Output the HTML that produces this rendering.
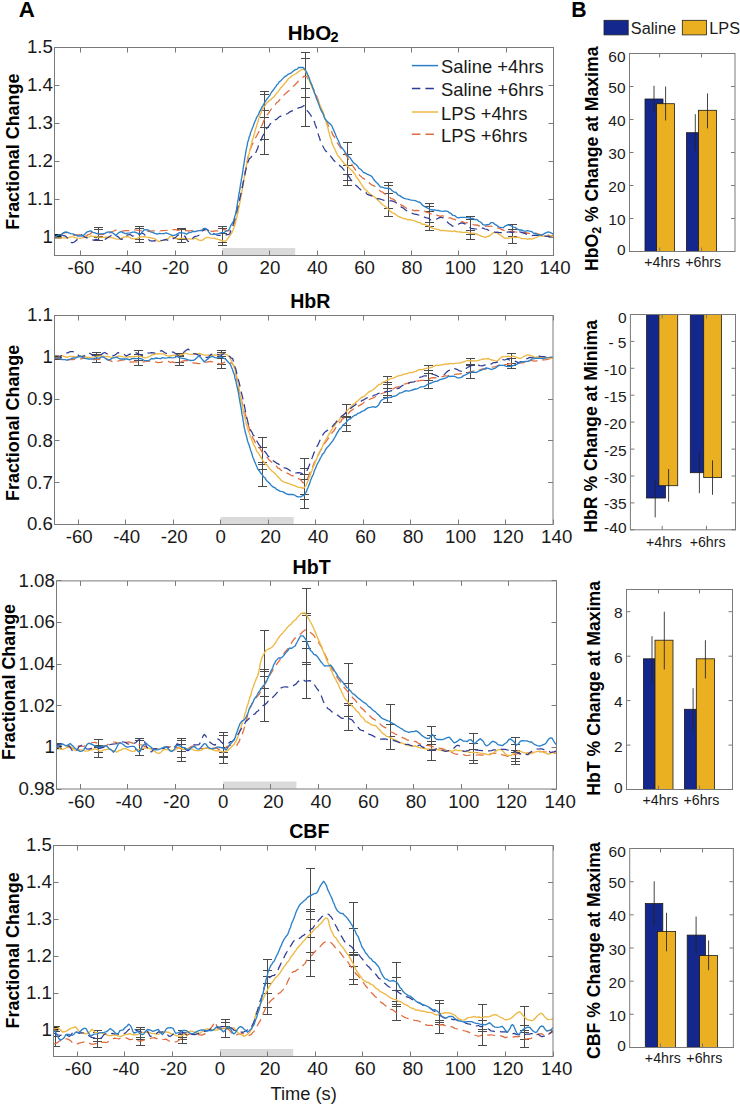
<!DOCTYPE html><html><head><meta charset="utf-8"><style>html,body{margin:0;padding:0;background:#fff;width:740px;height:1105px;overflow:hidden}svg{display:block}</style></head><body>
<svg width="740" height="1105" viewBox="0 0 740 1105" font-family="'Liberation Sans', sans-serif" fill="#1a1a1a">
<defs>
<clipPath id="clipA1"><rect x="54.5" y="47.5" width="499.0" height="208.0"/></clipPath>
<clipPath id="clipA2"><rect x="54.5" y="315.5" width="498.5" height="209.0"/></clipPath>
<clipPath id="clipA3"><rect x="56.5" y="580.9" width="500.0" height="208.1"/></clipPath>
<clipPath id="clipA4"><rect x="53.5" y="845.5" width="499.5" height="211.0"/></clipPath>
</defs>
<text x="18.8" y="16.6" font-size="22.3" text-anchor="start" font-weight="bold" fill="#000">A</text>
<text x="571.2" y="16.9" font-size="21.2" text-anchor="start" font-weight="bold" fill="#000">B</text>
<rect x="222.4" y="248.0" width="72.8" height="7" fill="#dadada"/>
<g clip-path="url(#clipA1)">
<path d="M57.5 234.5V237.5M53.0 234.5h9M53.0 237.5h9" stroke="#4a4a4a" stroke-width="1" fill="none"/>
<path d="M98.5 227.2V240.9M94.0 227.5h9M94.0 229.5h9M94.0 236.5h9M94.0 237.5h9M94.0 240.5h9" stroke="#4a4a4a" stroke-width="1" fill="none"/>
<path d="M139.5 226.5V242.7M135.0 226.5h9M135.0 228.5h9M135.0 239.5h9M135.0 242.5h9" stroke="#4a4a4a" stroke-width="1" fill="none"/>
<path d="M181.5 228.5V242.0M177.0 228.5h9M177.0 229.5h9M177.0 238.5h9M177.0 239.5h9M177.0 242.5h9" stroke="#4a4a4a" stroke-width="1" fill="none"/>
<path d="M222.5 226.5V245.4M218.0 226.5h9M218.0 228.5h9M218.0 233.5h9M218.0 242.5h9M218.0 245.5h9" stroke="#4a4a4a" stroke-width="1" fill="none"/>
<path d="M264.5 91.6V154.4M260.0 91.5h9M260.0 94.5h9M260.0 110.5h9M260.0 117.5h9M260.0 127.5h9M260.0 139.5h9M260.0 154.5h9" stroke="#4a4a4a" stroke-width="1" fill="none"/>
<path d="M305.5 52.7V126.0M301.0 52.5h9M301.0 58.5h9M301.0 88.5h9M301.0 97.5h9M301.0 126.5h9" stroke="#4a4a4a" stroke-width="1" fill="none"/>
<path d="M347.5 142.7V185.4M343.0 142.5h9M343.0 154.5h9M343.0 165.5h9M343.0 174.5h9M343.0 180.5h9M343.0 185.5h9" stroke="#4a4a4a" stroke-width="1" fill="none"/>
<path d="M388.5 182.7V216.5M384.0 182.5h9M384.0 185.5h9M384.0 193.5h9M384.0 208.5h9M384.0 216.5h9" stroke="#4a4a4a" stroke-width="1" fill="none"/>
<path d="M429.5 203.1V230.1M425.0 203.5h9M425.0 206.5h9M425.0 211.5h9M425.0 222.5h9M425.0 226.5h9M425.0 230.5h9" stroke="#4a4a4a" stroke-width="1" fill="none"/>
<path d="M470.5 216.9V239.2M466.0 216.5h9M466.0 219.5h9M466.0 230.5h9M466.0 234.5h9M466.0 239.5h9" stroke="#4a4a4a" stroke-width="1" fill="none"/>
<path d="M512.5 224.6V243.3M508.0 224.5h9M508.0 229.5h9M508.0 236.5h9M508.0 243.5h9" stroke="#4a4a4a" stroke-width="1" fill="none"/>
<rect x="54.5" y="234.0" width="7.0" height="4.5" fill="#151515"/>
<path d="M61.0 234.5 L62.9 233.3 L65.6 232.7 L68.2 232.4 L70.3 233.2 L72.2 234.7 L74.3 235.4 L76.7 234.9 L79.3 234.7 L81.6 234.4 L84.0 235.2 L86.5 236.0 L88.2 234.5 L90.0 234.2 L91.9 232.2 L93.8 232.1 L96.2 232.8 L98.7 234.2 L101.1 234.6 L103.5 234.3 L106.0 234.1 L108.4 233.8 L110.3 232.6 L112.2 231.5 L114.0 231.0 L115.7 230.1 L118.1 230.5 L120.6 231.0 L122.9 231.2 L125.4 230.6 L127.9 230.7 L130.1 230.7 L132.3 229.5 L135.2 230.0 L137.1 230.1 L139.2 230.5 L141.5 230.8 L143.8 231.1 L146.2 231.1 L148.5 231.5 L150.7 230.9 L153.0 230.9 L155.2 230.9 L157.5 230.4 L159.7 231.0 L162.0 230.5 L164.2 230.5 L166.5 230.4 L168.7 230.1 L171.0 229.4 L173.2 229.7 L175.5 229.7 L177.8 230.3 L180.1 229.8 L182.5 231.1 L184.8 230.5 L187.0 230.6 L189.1 231.1 L191.4 230.5 L193.6 230.4 L195.7 229.9 L197.8 230.5 L199.9 230.4 L202.0 230.2 L204.1 230.1 L206.2 231.2 L208.4 231.5 L210.7 231.2 L212.9 231.4 L215.2 230.8 L217.7 230.9 L220.1 230.7 L222.3 229.6 L224.2 229.6 L227.2 230.6 L229.5 230.9 L231.6 228.9 L232.4 227.9 L233.1 226.6 L233.8 224.7 L234.5 222.3 L235.1 220.7 L235.8 218.6 L236.4 215.7 L237.1 213.1 L237.5 211.6 L237.9 209.6 L238.3 208.0 L238.7 205.7 L239.1 203.1 L239.5 201.8 L239.9 199.8 L240.3 197.7 L240.7 194.9 L241.1 192.7 L241.6 190.8 L242.0 187.7 L242.5 186.0 L242.9 183.6 L243.3 181.5 L243.6 180.1 L244.0 178.3 L244.4 175.8 L244.8 173.2 L245.2 171.5 L245.7 168.9 L246.1 167.3 L246.5 165.2 L246.9 162.5 L247.4 160.1 L247.8 158.1 L248.3 156.2 L248.8 154.4 L249.2 152.9 L249.7 151.8 L250.5 149.1 L251.4 146.4 L252.2 144.8 L253.1 142.8 L254.0 140.2 L254.9 138.9 L255.9 137.2 L256.8 135.6 L257.8 133.7 L258.8 131.9 L259.7 129.2 L260.6 127.5 L261.5 125.8 L262.4 124.5 L263.4 121.6 L264.3 119.8 L265.3 118.8 L266.3 117.0 L267.4 114.5 L268.5 113.4 L269.6 111.5 L270.9 109.5 L272.3 108.2 L273.8 106.5 L275.3 104.5 L276.8 102.4 L278.4 101.7 L279.9 99.4 L281.4 98.1 L282.8 96.2 L284.1 94.9 L285.9 93.2 L287.5 91.7 L289.1 90.5 L290.7 88.9 L292.1 87.1 L293.6 86.0 L295.0 84.7 L296.7 83.0 L298.4 81.0 L300.0 79.5 L301.5 78.2 L302.9 77.2 L304.0 76.1 L307.2 77.0 L307.9 78.6 L308.6 79.6 L309.5 81.6 L310.4 83.0 L311.4 84.5 L312.4 86.8 L313.4 89.0 L314.4 91.0 L315.4 93.1 L316.3 95.4 L317.0 96.7 L317.8 98.9 L318.5 101.2 L319.2 103.1 L320.0 104.9 L320.7 107.3 L321.4 109.3 L322.2 111.2 L322.9 112.7 L323.7 114.5 L324.5 117.3 L325.3 119.2 L326.1 121.1 L327.0 122.6 L327.9 124.5 L328.8 126.6 L329.7 128.5 L330.6 130.4 L331.6 131.5 L332.5 134.1 L333.4 135.8 L334.4 136.7 L335.3 139.3 L336.2 140.8 L337.4 143.1 L338.6 144.7 L339.8 146.7 L341.0 147.8 L342.1 150.2 L343.3 151.1 L344.6 153.1 L345.8 155.0 L347.1 156.6 L348.2 158.8 L349.2 160.5 L350.3 162.2 L351.4 163.2 L352.5 165.5 L353.6 167.1 L354.8 169.0 L356.0 170.4 L357.2 171.5 L358.4 173.4 L359.7 175.4 L361.2 176.6 L362.7 178.1 L364.3 178.9 L365.9 180.7 L367.5 181.1 L369.2 182.9 L370.9 184.2 L372.6 185.4 L374.3 185.8 L376.0 187.7 L377.6 189.1 L379.2 190.1 L380.9 191.6 L382.5 192.0 L384.2 193.5 L385.9 194.9 L387.6 196.0 L389.3 196.8 L390.9 198.6 L392.5 198.8 L394.1 199.7 L396.0 201.5 L397.9 202.5 L399.7 203.9 L401.5 205.2 L403.3 205.9 L405.1 207.3 L406.8 208.5 L408.4 209.1 L410.0 209.5 L412.2 209.9 L414.3 210.8 L416.3 210.3 L418.3 210.7 L420.2 210.6 L422.2 211.3 L424.2 210.8 L426.2 212.2 L428.2 212.7 L430.3 213.6 L432.3 214.4 L434.3 215.2 L436.3 214.9 L438.4 215.7 L440.4 216.3 L442.4 215.7 L444.5 216.6 L446.5 216.6 L448.5 217.8 L450.6 217.9 L452.6 218.9 L454.6 219.3 L456.7 220.5 L458.7 220.6 L460.7 222.1 L462.7 221.7 L464.8 223.1 L466.8 222.6 L468.8 223.4 L470.8 224.2 L472.8 224.5 L474.9 225.2 L476.9 224.8 L478.9 226.0 L481.0 225.2 L483.0 225.8 L485.0 226.1 L487.0 225.8 L489.1 226.5 L491.1 226.0 L493.1 227.1 L495.1 227.2 L497.1 227.8 L499.2 228.1 L501.2 229.3 L503.2 230.1 L505.3 230.9 L507.3 231.1 L509.3 231.7 L511.4 231.1 L513.4 231.7 L515.4 232.0 L517.5 232.1 L519.5 232.3 L521.5 232.0 L523.6 232.3 L525.7 232.3 L527.7 233.2 L529.7 233.4 L531.6 233.3 L533.7 233.5 L535.7 233.2 L537.7 233.8 L539.7 234.3 L541.8 234.6 L543.8 234.2 L546.1 234.5 L548.5 235.2 L550.7 236.0 L552.6 235.7 L553.9 236.2" stroke="#e06a3c" stroke-width="1.25" fill="none" stroke-linejoin="round" stroke-dasharray="8 5"/>
<path d="M54.9 237.5 L56.5 237.9 L58.8 237.9 L61.0 237.8 L63.5 237.8 L65.8 238.2 L68.1 237.9 L70.7 236.8 L72.9 236.9 L75.4 237.8 L78.0 238.2 L80.1 238.4 L82.2 237.8 L84.4 237.1 L86.5 237.3 L89.0 236.9 L91.3 235.9 L93.8 236.7 L95.8 236.3 L98.0 237.2 L100.1 237.1 L102.3 237.4 L104.5 237.4 L106.6 237.0 L108.8 237.6 L110.8 237.3 L113.3 237.9 L115.6 238.8 L118.1 239.1 L120.1 238.8 L122.3 237.8 L124.5 236.8 L126.6 236.5 L128.7 236.9 L130.9 238.1 L133.0 238.8 L135.0 238.7 L137.4 238.6 L139.6 237.0 L141.8 236.8 L144.1 236.6 L146.4 237.1 L148.5 237.4 L151.3 238.0 L153.9 238.4 L155.6 239.4 L157.4 240.8 L159.3 241.6 L161.5 240.6 L163.9 240.3 L166.1 239.0 L168.1 238.6 L169.9 236.7 L171.5 235.8 L173.4 237.4 L175.5 238.5 L177.6 239.0 L179.9 238.3 L182.3 238.2 L184.6 238.6 L186.8 238.9 L189.1 238.9 L191.4 239.2 L193.7 238.8 L195.8 238.1 L198.5 239.9 L201.2 240.6 L203.3 239.6 L205.6 237.8 L208.0 237.4 L210.0 237.8 L212.1 238.1 L214.2 238.2 L216.1 238.8 L219.1 239.6 L221.5 240.5 L223.6 241.1 L225.5 241.1 L227.5 239.0 L229.6 236.1 L230.4 235.0 L231.3 233.5 L232.2 232.2 L233.1 230.1 L234.1 227.3 L235.0 224.5 L235.4 223.1 L235.9 220.9 L236.3 219.4 L236.7 217.5 L237.2 215.3 L237.6 214.1 L238.1 211.4 L238.5 209.1 L239.0 207.1 L239.4 205.3 L239.8 202.6 L240.3 200.9 L240.7 198.5 L241.1 196.2 L241.4 194.3 L241.8 192.6 L242.1 190.5 L242.5 188.6 L242.8 186.3 L243.2 184.6 L243.5 182.1 L243.9 179.5 L244.2 178.1 L244.6 175.7 L245.0 173.2 L245.3 172.1 L245.7 169.8 L246.1 168.0 L246.5 165.0 L247.0 163.6 L247.4 161.1 L247.9 159.6 L248.3 157.4 L248.7 155.1 L249.2 153.2 L249.7 151.1 L250.2 148.6 L250.7 146.9 L251.2 145.1 L251.8 142.4 L252.4 140.0 L252.9 138.3 L253.5 137.2 L254.0 134.7 L254.6 133.0 L255.2 130.2 L255.8 128.2 L256.4 126.7 L257.0 124.3 L257.6 122.8 L258.3 120.3 L259.0 118.1 L259.6 116.6 L260.3 114.0 L261.0 112.9 L261.7 111.1 L262.4 109.2 L263.7 107.6 L265.0 105.6 L266.4 103.2 L267.9 101.9 L269.3 100.5 L270.8 99.8 L272.2 98.0 L273.7 97.1 L275.1 95.1 L276.5 93.3 L277.9 91.9 L279.4 89.8 L280.8 87.7 L282.2 86.6 L283.6 84.7 L285.0 83.0 L286.4 81.7 L287.7 79.6 L289.7 77.8 L291.7 75.9 L293.6 75.0 L295.4 74.0 L297.1 72.9 L298.6 71.6 L301.0 70.0 L302.7 69.3 L304.0 69.0 L305.4 70.9 L305.9 72.0 L306.5 73.2 L307.1 75.4 L307.9 77.3 L308.7 78.4 L309.5 81.4 L310.3 83.6 L311.2 85.4 L312.1 87.5 L312.9 89.3 L313.7 91.3 L314.5 93.3 L315.4 95.7 L316.3 97.3 L317.2 98.8 L318.1 101.4 L319.0 102.6 L319.9 105.1 L320.8 107.1 L321.7 109.2 L322.6 110.4 L323.5 113.6 L324.1 114.9 L324.6 117.2 L325.2 118.8 L325.8 120.7 L326.3 122.9 L326.9 124.3 L327.5 126.6 L328.1 128.7 L328.6 131.4 L329.2 132.8 L329.8 135.6 L330.3 137.7 L330.9 138.7 L331.5 141.0 L332.0 143.1 L332.6 144.4 L333.6 147.0 L334.6 148.5 L335.5 150.8 L336.5 152.9 L337.5 154.8 L338.5 156.3 L339.5 157.3 L340.5 158.7 L341.6 160.4 L343.0 162.0 L344.5 164.1 L346.0 164.8 L347.6 166.0 L349.2 168.1 L350.8 169.8 L352.5 170.9 L353.6 172.7 L354.7 173.7 L355.9 176.1 L357.1 177.8 L358.3 179.5 L359.5 181.1 L360.6 183.1 L361.8 184.6 L363.0 186.6 L364.1 188.4 L365.2 189.4 L366.8 190.7 L368.3 192.4 L369.8 193.8 L371.2 194.9 L372.7 195.7 L374.3 196.8 L376.0 198.3 L377.5 199.7 L379.0 201.3 L380.6 202.8 L382.3 204.5 L384.0 205.5 L385.7 206.9 L387.3 208.1 L388.9 209.8 L390.5 211.6 L392.5 212.8 L394.4 213.4 L396.4 215.0 L398.3 216.4 L400.1 217.0 L401.7 217.7 L403.2 218.5 L405.8 218.9 L407.7 219.9 L410.0 219.6 L411.8 220.1 L413.8 220.5 L415.9 221.4 L418.0 222.3 L420.1 222.5 L422.1 224.2 L424.2 224.2 L426.2 225.2 L428.3 225.7 L430.3 226.9 L432.3 228.1 L434.3 228.6 L436.4 229.3 L438.4 229.3 L440.4 230.6 L442.3 230.5 L444.0 230.4 L445.7 230.6 L447.8 231.1 L450.5 231.0 L452.1 231.7 L454.0 230.9 L456.0 231.5 L458.1 231.8 L460.3 232.0 L462.5 232.4 L464.7 232.4 L466.8 232.2 L468.9 232.9 L470.8 233.1 L473.1 233.1 L475.3 233.7 L477.5 234.5 L479.7 235.4 L481.7 236.3 L483.6 236.7 L485.4 237.3 L487.0 236.7 L489.5 236.0 L491.4 234.5 L493.1 232.7 L495.1 232.6 L497.0 232.7 L499.0 234.4 L501.1 235.4 L503.2 237.3 L505.3 238.4 L507.3 238.2 L509.2 238.1 L511.1 237.9 L513.1 236.8 L515.4 237.6 L517.2 237.2 L519.3 237.5 L521.4 238.5 L523.6 238.7 L525.7 238.6 L527.8 239.3 L529.6 238.7 L531.8 239.2 L533.7 238.4 L535.6 237.8 L537.5 237.0 L539.7 235.7 L541.6 236.0 L543.9 236.1 L546.2 236.2 L548.6 235.9 L550.8 235.8 L552.6 236.1 L553.9 236.2" stroke="#eeb844" stroke-width="1.35" fill="none" stroke-linejoin="round"/>
<path d="M61.0 234.5 L62.6 235.3 L64.9 235.8 L67.0 237.5 L68.7 239.5 L70.3 241.9 L71.9 242.8 L74.4 242.0 L76.8 240.0 L78.3 238.0 L79.8 236.5 L81.6 234.8 L83.2 236.0 L85.1 237.1 L87.0 237.9 L88.9 238.9 L91.3 239.5 L93.8 240.2 L96.2 239.4 L98.6 240.2 L101.1 240.5 L103.5 240.4 L105.4 239.1 L107.2 238.0 L109.1 236.7 L110.8 235.8 L113.0 234.8 L115.0 235.8 L116.9 236.1 L118.6 237.1 L120.1 238.8 L121.8 239.4 L123.7 238.3 L125.7 235.7 L127.9 234.9 L130.2 234.5 L132.7 236.2 L135.2 235.6 L137.2 235.7 L139.2 234.4 L141.2 233.5 L143.1 233.4 L144.8 234.9 L146.4 236.9 L148.0 239.0 L149.9 240.7 L152.1 241.1 L154.6 240.7 L157.1 241.4 L159.3 240.4 L161.8 240.5 L164.0 239.8 L166.1 239.7 L168.7 240.6 L171.5 240.4 L173.4 238.4 L175.5 237.7 L177.7 235.2 L179.6 235.0 L182.6 235.2 L185.0 236.4 L186.4 239.1 L187.7 241.1 L189.1 241.8 L190.8 241.4 L192.7 238.2 L194.5 236.7 L197.2 236.0 L199.9 234.9 L201.2 233.1 L202.5 231.1 L203.9 229.6 L205.3 228.9 L207.4 229.7 L209.7 231.1 L212.0 232.7 L214.2 233.8 L216.4 234.8 L218.8 235.5 L220.8 235.3 L223.0 235.9 L225.1 235.4 L226.9 234.6 L228.6 234.6 L229.8 233.8 L231.6 228.8 L232.0 227.5 L232.5 226.4 L233.0 224.9 L233.5 222.8 L234.0 221.0 L234.6 218.9 L235.1 217.0 L235.7 214.9 L236.3 212.7 L236.9 210.6 L237.5 207.8 L238.0 206.1 L238.6 203.1 L239.2 200.9 L239.7 199.2 L240.2 196.8 L240.7 194.9 L241.2 192.6 L241.7 190.6 L242.2 188.0 L242.6 186.2 L243.1 183.3 L243.5 181.4 L244.0 179.4 L244.4 176.7 L244.8 174.8 L245.3 172.5 L245.7 170.5 L246.1 168.7 L246.6 166.5 L247.0 164.7 L247.5 163.2 L247.9 162.2 L249.3 158.8 L250.6 157.7 L252.0 156.3 L253.5 155.5 L255.2 152.8 L256.0 152.2 L256.8 150.1 L257.7 148.3 L258.5 145.4 L259.4 144.2 L260.4 141.8 L261.3 139.8 L262.3 136.7 L263.2 135.1 L264.2 133.1 L265.1 131.5 L266.0 129.1 L267.5 127.6 L269.0 125.9 L270.5 123.7 L272.0 122.0 L273.5 121.7 L275.2 119.8 L276.9 119.2 L278.6 117.3 L280.3 116.2 L282.2 116.3 L284.0 115.3 L285.9 114.3 L287.8 113.5 L289.7 111.9 L291.4 111.1 L293.7 110.3 L296.2 109.3 L298.5 107.8 L300.7 107.4 L302.6 106.6 L304.0 105.6 L305.4 108.4 L306.2 108.6 L307.2 110.8 L308.3 111.9 L309.6 113.7 L310.9 115.4 L312.2 118.2 L313.4 119.7 L314.5 122.2 L315.2 124.7 L315.9 126.2 L316.5 127.8 L317.2 130.2 L317.8 132.1 L318.4 134.9 L319.0 136.6 L319.7 138.2 L320.3 140.9 L321.0 142.5 L321.7 144.2 L322.9 146.3 L324.1 148.5 L325.3 150.5 L326.6 151.7 L327.9 152.9 L329.3 155.2 L330.8 156.3 L332.2 158.2 L333.7 160.3 L335.3 161.7 L337.0 163.3 L338.6 164.1 L340.3 166.4 L341.9 167.3 L343.4 169.4 L344.7 170.9 L345.9 172.5 L347.0 174.5 L348.2 175.5 L349.3 177.4 L350.5 179.0 L351.7 180.8 L352.9 181.9 L354.3 183.8 L355.8 185.2 L357.4 186.5 L359.0 188.1 L360.7 189.7 L362.4 190.8 L364.1 192.2 L365.8 192.4 L367.3 194.3 L368.8 194.8 L371.1 195.6 L373.2 196.6 L375.2 197.4 L377.3 198.7 L379.6 198.8 L381.5 199.5 L383.4 200.2 L385.5 200.5 L387.6 200.8 L389.7 200.9 L391.9 200.8 L394.1 201.7 L395.8 202.5 L397.6 203.8 L399.4 205.3 L401.3 207.1 L403.1 207.9 L404.9 209.5 L406.7 210.7 L408.4 212.0 L410.0 212.6 L412.3 213.3 L414.4 214.2 L416.5 214.3 L418.4 215.0 L420.3 215.4 L422.2 216.4 L424.4 217.2 L426.4 217.9 L428.4 218.2 L430.3 219.8 L432.3 219.8 L434.3 219.5 L436.3 219.2 L438.4 218.2 L440.4 217.4 L442.4 217.5 L444.1 218.7 L445.8 220.1 L447.5 222.3 L449.2 223.7 L450.9 224.8 L452.6 226.2 L454.6 225.6 L456.6 225.2 L458.7 224.0 L460.7 223.2 L462.7 223.0 L464.7 223.8 L466.7 224.7 L468.8 226.5 L470.8 228.4 L472.8 228.6 L474.8 228.9 L476.8 229.0 L478.8 227.9 L480.8 228.2 L483.0 228.2 L484.9 229.0 L486.9 229.3 L488.9 230.5 L491.0 231.1 L493.1 231.3 L495.1 232.3 L497.1 232.2 L499.2 232.7 L501.2 232.5 L503.2 232.6 L505.3 231.8 L507.3 232.2 L509.4 231.8 L511.4 232.3 L513.5 232.0 L515.6 232.3 L517.6 232.3 L519.5 231.9 L521.6 232.4 L523.6 233.1 L525.5 233.6 L527.5 234.7 L529.6 235.6 L531.5 235.6 L533.6 235.3 L535.7 235.1 L537.8 235.5 L539.9 234.9 L541.8 235.0 L544.1 235.8 L546.5 236.3 L548.7 236.1 L550.6 237.4 L551.9 237.2" stroke="#2e3c96" stroke-width="1.25" fill="none" stroke-linejoin="round" stroke-dasharray="8 5"/>
<path d="M54.9 236.3 L56.5 236.2 L58.8 234.8 L61.0 234.9 L63.5 232.7 L65.8 232.0 L68.1 232.6 L70.7 233.6 L73.0 233.9 L75.6 235.1 L78.0 236.0 L80.2 236.0 L82.2 235.8 L84.1 234.8 L85.7 233.2 L87.3 231.8 L88.9 231.3 L90.8 230.8 L92.8 232.3 L95.0 232.9 L97.3 233.8 L99.8 233.9 L102.3 233.9 L104.8 233.3 L107.3 232.1 L109.6 231.9 L111.8 232.5 L113.9 233.7 L115.7 235.5 L117.5 233.7 L119.3 232.3 L121.0 231.6 L123.0 232.6 L125.4 233.7 L127.7 233.1 L130.2 232.9 L132.8 232.1 L135.0 232.1 L138.0 233.3 L140.4 234.3 L142.1 232.3 L143.9 230.0 L145.8 229.7 L148.0 229.8 L150.3 231.8 L152.6 232.3 L154.8 233.4 L157.1 234.1 L159.3 233.4 L161.5 233.6 L163.7 233.6 L166.1 232.9 L168.1 233.6 L170.2 234.5 L172.3 235.4 L174.2 235.4 L176.1 234.6 L177.8 233.6 L179.6 232.7 L181.8 232.8 L184.1 233.2 L186.4 234.1 L188.6 232.8 L190.9 232.4 L193.1 231.3 L195.4 231.5 L197.7 230.9 L199.9 230.7 L201.8 230.6 L203.6 228.4 L205.3 228.3 L207.1 229.9 L208.9 232.2 L210.7 234.2 L213.4 234.3 L216.1 234.2 L218.8 233.6 L221.5 232.7 L224.3 232.4 L226.9 230.8 L228.3 230.3 L229.6 228.6 L230.9 225.3 L231.7 224.0 L232.6 222.6 L233.4 221.4 L234.2 218.6 L235.0 215.9 L235.4 214.7 L235.8 213.6 L236.1 211.3 L236.5 209.9 L236.8 207.3 L237.2 205.0 L237.6 202.4 L238.0 200.5 L238.3 198.6 L238.6 196.2 L238.9 194.2 L239.3 192.5 L239.6 190.6 L240.0 188.5 L240.3 185.9 L240.7 183.7 L241.1 181.4 L241.4 179.2 L241.8 177.7 L242.1 175.7 L242.5 173.1 L242.8 171.0 L243.2 168.4 L243.5 166.2 L243.9 164.8 L244.2 161.9 L244.5 160.0 L244.9 157.4 L245.2 155.9 L245.5 153.8 L245.9 151.1 L246.3 149.3 L246.6 147.6 L247.0 146.4 L247.5 143.1 L248.1 141.1 L248.6 139.7 L249.2 136.9 L249.8 135.8 L250.4 133.3 L251.0 131.6 L251.7 130.0 L252.4 128.0 L253.2 126.2 L254.0 123.8 L254.9 121.5 L255.8 119.6 L256.7 117.2 L257.7 115.9 L258.7 114.0 L259.6 111.6 L260.6 109.9 L261.7 107.4 L262.7 106.2 L263.8 104.1 L264.9 102.0 L266.1 100.4 L267.2 98.6 L268.4 97.2 L269.6 95.7 L270.7 93.5 L271.9 91.7 L273.1 90.3 L274.3 88.6 L275.6 86.8 L276.8 84.8 L278.0 84.0 L279.3 81.6 L280.5 81.1 L282.3 79.1 L284.2 77.1 L286.1 75.9 L287.9 74.4 L289.7 73.6 L291.4 72.8 L293.4 71.0 L295.3 69.6 L297.2 69.1 L298.9 67.3 L300.4 67.5 L303.1 67.5 L305.4 70.0 L306.3 71.5 L307.1 73.1 L308.0 75.4 L308.9 77.1 L309.9 80.3 L310.9 82.9 L311.6 84.3 L312.2 86.1 L312.9 88.4 L313.7 89.9 L314.4 92.8 L315.1 94.1 L315.9 96.3 L316.6 99.0 L317.4 100.5 L318.1 102.5 L319.0 104.7 L319.9 107.4 L320.8 109.7 L321.8 111.7 L322.7 113.0 L323.6 115.2 L324.4 117.8 L325.3 119.3 L326.9 120.9 L328.4 122.6 L330.0 123.8 L331.7 125.6 L332.5 127.4 L333.4 129.4 L334.2 131.2 L335.1 133.4 L336.0 135.7 L337.0 138.0 L337.9 139.7 L338.8 141.7 L339.8 144.3 L341.0 146.6 L342.2 148.1 L343.4 149.7 L344.7 151.5 L346.0 153.4 L347.4 154.9 L348.9 156.7 L350.2 157.9 L351.5 160.0 L353.0 162.0 L354.5 163.7 L355.9 164.4 L357.4 166.0 L358.9 168.4 L360.2 169.0 L361.5 170.1 L363.5 172.4 L365.4 173.2 L367.1 174.1 L368.8 174.9 L370.6 175.6 L372.0 176.7 L373.4 179.0 L374.8 180.7 L376.2 182.3 L377.6 183.5 L379.1 185.4 L380.5 187.1 L382.5 187.1 L384.4 188.0 L386.4 188.3 L388.4 188.2 L390.5 189.0 L392.3 190.8 L394.2 192.2 L396.0 192.5 L397.9 194.9 L399.7 195.6 L401.4 196.9 L403.7 198.1 L405.9 198.8 L407.9 199.1 L410.0 199.9 L412.0 200.2 L414.0 200.4 L415.9 200.9 L418.1 202.0 L419.7 202.1 L421.3 203.7 L423.0 205.7 L424.8 206.6 L426.5 207.7 L428.2 208.4 L430.3 209.4 L432.3 210.0 L434.4 209.8 L436.4 210.3 L438.4 210.5 L440.8 211.1 L443.0 211.3 L445.3 210.9 L447.5 211.3 L449.3 212.6 L451.1 213.6 L452.9 215.4 L454.7 215.6 L456.6 217.3 L458.6 217.8 L460.6 217.4 L462.7 217.3 L464.7 217.4 L466.8 217.6 L468.9 217.8 L470.9 218.5 L473.0 218.4 L475.0 219.7 L476.9 219.4 L479.1 221.5 L481.1 222.4 L483.0 224.7 L485.0 225.1 L487.0 224.6 L489.1 224.5 L491.1 222.6 L493.1 222.7 L495.1 224.4 L497.1 225.6 L499.2 227.2 L501.2 227.5 L503.2 227.7 L505.1 226.1 L507.1 225.0 L509.3 225.2 L511.2 225.8 L513.2 227.1 L515.3 227.4 L517.4 229.2 L519.5 230.0 L521.5 230.0 L523.5 230.8 L525.6 231.2 L527.6 230.6 L529.6 231.2 L531.6 231.5 L533.6 233.3 L535.7 233.5 L537.7 234.5 L539.7 234.8 L541.8 235.4 L544.1 233.7 L546.3 232.7 L548.3 231.9 L549.9 232.3 L552.5 233.6 L553.9 235.1" stroke="#2b80c8" stroke-width="1.35" fill="none" stroke-linejoin="round"/>
</g>
<path d="M80.5 255.5v-5.0M80.5 47.5v5.0M127.5 255.5v-5.0M127.5 47.5v5.0M175.5 255.5v-5.0M175.5 47.5v5.0M222.5 255.5v-5.0M222.5 47.5v5.0M269.5 255.5v-5.0M269.5 47.5v5.0M317.5 255.5v-5.0M317.5 47.5v5.0M364.5 255.5v-5.0M364.5 47.5v5.0M411.5 255.5v-5.0M411.5 47.5v5.0M458.5 255.5v-5.0M458.5 47.5v5.0M506.5 255.5v-5.0M506.5 47.5v5.0M553.5 255.5v-5.0M553.5 47.5v5.0M54.5 237.5h5.0M553.5 237.5h-5.0M54.5 199.5h5.0M553.5 199.5h-5.0M54.5 161.5h5.0M553.5 161.5h-5.0M54.5 123.5h5.0M553.5 123.5h-5.0M54.5 85.5h5.0M553.5 85.5h-5.0M54.5 47.5h5.0M553.5 47.5h-5.0" stroke="#7a7a7a" stroke-width="1" fill="none"/>
<rect x="54.5" y="47.5" width="499.0" height="208.0" stroke="#7a7a7a" stroke-width="1" fill="none"/>
<text x="81.0" y="274.1" font-size="18.7" text-anchor="middle" font-weight="normal" >-60</text>
<text x="128.3" y="274.1" font-size="18.7" text-anchor="middle" font-weight="normal" >-40</text>
<text x="175.6" y="274.1" font-size="18.7" text-anchor="middle" font-weight="normal" >-20</text>
<text x="222.6" y="274.1" font-size="18.7" text-anchor="middle" font-weight="normal" >0</text>
<text x="270.0" y="274.1" font-size="18.7" text-anchor="middle" font-weight="normal" >20</text>
<text x="317.3" y="274.1" font-size="18.7" text-anchor="middle" font-weight="normal" >40</text>
<text x="364.6" y="274.1" font-size="18.7" text-anchor="middle" font-weight="normal" >60</text>
<text x="411.9" y="274.1" font-size="18.7" text-anchor="middle" font-weight="normal" >80</text>
<text x="460.4" y="274.1" font-size="18.7" text-anchor="middle" font-weight="normal" >100</text>
<text x="507.7" y="274.1" font-size="18.7" text-anchor="middle" font-weight="normal" >120</text>
<text x="555.0" y="274.1" font-size="18.7" text-anchor="middle" font-weight="normal" >140</text>
<text x="52.9" y="243.4" font-size="18.7" text-anchor="end" font-weight="normal" >1</text>
<text x="52.9" y="205.4" font-size="18.7" text-anchor="end" font-weight="normal" >1.1</text>
<text x="52.9" y="167.4" font-size="18.7" text-anchor="end" font-weight="normal" >1.2</text>
<text x="52.9" y="129.4" font-size="18.7" text-anchor="end" font-weight="normal" >1.3</text>
<text x="52.9" y="91.4" font-size="18.7" text-anchor="end" font-weight="normal" >1.4</text>
<text x="52.9" y="53.4" font-size="18.7" text-anchor="end" font-weight="normal" >1.5</text>
<text x="287.7" y="39.9" font-size="19.6" text-anchor="start" font-weight="bold" fill="#000"><tspan font-size="20.6">HbO</tspan><tspan font-size="14.5" dx="-0.6" dy="2.2">2</tspan></text>
<rect x="220.7" y="517.0" width="73.0" height="7" fill="#dadada"/>
<g clip-path="url(#clipA2)">
<path d="M57.5 356.0V359.0M53.0 356.5h9M53.0 357.5h9M53.0 359.5h9" stroke="#4a4a4a" stroke-width="1" fill="none"/>
<path d="M96.5 352.3V362.0M92.0 352.5h9M92.0 354.5h9M92.0 355.5h9M92.0 362.5h9" stroke="#4a4a4a" stroke-width="1" fill="none"/>
<path d="M138.5 350.1V365.7M134.0 350.5h9M134.0 354.5h9M134.0 356.5h9M134.0 360.5h9M134.0 365.5h9" stroke="#4a4a4a" stroke-width="1" fill="none"/>
<path d="M179.5 353.5V365.7M175.0 353.5h9M175.0 355.5h9M175.0 356.5h9M175.0 362.5h9M175.0 365.5h9" stroke="#4a4a4a" stroke-width="1" fill="none"/>
<path d="M221.5 350.1V368.4M217.0 350.5h9M217.0 352.5h9M217.0 356.5h9M217.0 358.5h9M217.0 364.5h9M217.0 368.5h9" stroke="#4a4a4a" stroke-width="1" fill="none"/>
<path d="M262.5 437.5V486.3M258.0 437.5h9M258.0 447.5h9M258.0 462.5h9M258.0 464.5h9M258.0 469.5h9M258.0 486.5h9" stroke="#4a4a4a" stroke-width="1" fill="none"/>
<path d="M304.5 458.4V508.3M300.0 458.5h9M300.0 468.5h9M300.0 474.5h9M300.0 479.5h9M300.0 494.5h9M300.0 499.5h9M300.0 508.5h9" stroke="#4a4a4a" stroke-width="1" fill="none"/>
<path d="M346.5 404.7V431.0M342.0 404.5h9M342.0 416.5h9M342.0 417.5h9M342.0 425.5h9M342.0 431.5h9" stroke="#4a4a4a" stroke-width="1" fill="none"/>
<path d="M387.5 376.0V402.0M383.0 376.5h9M383.0 382.5h9M383.0 384.5h9M383.0 388.5h9M383.0 395.5h9M383.0 397.5h9M383.0 402.5h9" stroke="#4a4a4a" stroke-width="1" fill="none"/>
<path d="M428.5 365.4V388.2M424.0 365.5h9M424.0 370.5h9M424.0 373.5h9M424.0 380.5h9M424.0 388.5h9" stroke="#4a4a4a" stroke-width="1" fill="none"/>
<path d="M470.5 358.4V378.2M466.0 358.5h9M466.0 364.5h9M466.0 365.5h9M466.0 372.5h9M466.0 378.5h9" stroke="#4a4a4a" stroke-width="1" fill="none"/>
<path d="M511.5 353.6V368.8M507.0 353.5h9M507.0 358.5h9M507.0 363.5h9M507.0 365.5h9M507.0 368.5h9" stroke="#4a4a4a" stroke-width="1" fill="none"/>
<rect x="54.5" y="355.5" width="5.0" height="3.8" fill="#151515"/>
<path d="M54.5 358.5 L58.3 358.6 L60.3 358.8 L62.5 360.0 L64.8 359.8 L66.9 360.0 L69.1 359.5 L71.3 359.5 L73.8 359.5 L76.4 358.9 L78.9 358.8 L81.2 358.8 L83.4 358.2 L85.4 358.0 L88.1 358.2 L90.8 359.3 L92.9 359.5 L95.0 359.5 L97.2 359.3 L99.4 359.3 L101.5 357.8 L103.7 358.4 L105.9 358.6 L108.2 359.4 L110.2 360.7 L112.4 361.6 L114.5 361.2 L117.1 361.4 L119.9 360.5 L122.6 360.2 L125.4 359.6 L128.2 361.3 L130.8 362.2 L134.0 361.9 L135.7 361.9 L137.7 362.2 L140.0 362.2 L142.1 361.8 L144.1 361.9 L146.2 361.5 L148.2 360.8 L150.2 361.4 L152.2 361.6 L154.2 361.4 L156.3 362.1 L158.3 362.6 L160.3 362.5 L162.4 361.9 L164.4 361.4 L166.4 361.3 L168.4 361.4 L170.4 362.5 L172.5 361.9 L174.5 362.6 L176.6 362.3 L178.7 362.0 L180.8 362.3 L182.6 361.1 L185.3 360.6 L188.1 360.7 L189.9 361.5 L192.0 362.5 L194.1 363.2 L196.2 363.1 L198.2 363.6 L200.2 363.5 L202.3 362.8 L204.3 362.5 L206.3 362.2 L208.4 361.8 L210.4 361.4 L212.4 361.9 L214.5 362.2 L216.6 362.3 L218.7 363.7 L220.5 364.0 L223.2 362.9 L225.9 361.8 L227.8 362.5 L230.0 362.6 L232.1 363.3 L234.0 366.2 L234.5 367.1 L235.0 368.3 L235.4 370.6 L235.8 371.9 L236.1 374.9 L236.5 376.8 L236.8 378.9 L237.2 381.0 L237.6 384.1 L237.9 385.9 L238.3 387.6 L238.8 390.5 L239.3 392.0 L239.8 394.1 L240.3 396.1 L240.9 398.1 L241.4 400.1 L242.0 402.5 L242.6 404.9 L243.1 406.5 L243.7 408.5 L244.3 410.6 L244.8 412.3 L245.4 414.3 L246.0 416.6 L246.6 418.8 L247.1 421.2 L247.7 423.3 L248.3 424.6 L248.8 426.8 L249.4 428.8 L250.0 430.7 L250.6 432.7 L251.2 434.1 L251.9 435.4 L253.0 438.3 L254.0 439.7 L255.2 442.6 L256.3 443.7 L257.5 445.8 L258.7 447.5 L260.0 448.5 L261.3 450.6 L262.6 452.8 L264.0 454.5 L265.4 456.1 L266.8 456.8 L268.3 458.9 L269.8 460.6 L271.4 461.9 L273.0 463.1 L274.7 465.0 L276.3 466.1 L278.0 468.1 L279.6 468.7 L281.2 470.4 L283.2 471.1 L285.2 472.6 L287.1 473.2 L289.0 473.9 L290.9 475.3 L292.9 475.8 L295.1 477.5 L297.1 477.9 L299.1 478.9 L300.7 479.8 L303.2 482.8 L305.3 482.5 L306.0 481.9 L306.8 480.0 L307.7 478.0 L308.5 476.2 L309.4 473.5 L310.4 471.9 L311.3 469.6 L312.3 467.3 L313.2 465.6 L314.1 462.9 L315.0 461.6 L316.0 459.5 L317.0 457.5 L318.0 454.9 L319.0 453.6 L320.0 451.5 L321.1 449.5 L322.2 448.2 L323.3 445.8 L324.5 443.5 L325.6 442.1 L326.8 440.7 L328.0 438.7 L329.2 437.5 L330.4 435.0 L331.6 433.4 L332.9 431.8 L334.2 430.4 L335.6 427.9 L336.9 426.3 L338.2 424.6 L339.6 422.4 L340.9 421.6 L342.2 419.1 L343.7 418.5 L345.2 416.3 L346.6 414.7 L348.1 413.8 L349.6 412.0 L351.1 410.8 L352.7 409.6 L354.4 408.3 L356.1 408.0 L357.8 406.2 L359.6 405.4 L361.4 404.4 L363.2 403.0 L365.0 401.5 L367.1 401.2 L369.2 399.5 L371.3 398.7 L373.3 398.0 L375.4 396.7 L377.3 395.6 L379.5 394.5 L381.5 393.5 L383.6 393.0 L385.6 391.9 L387.8 390.6 L389.7 389.5 L391.8 389.5 L393.8 388.6 L395.9 387.2 L398.0 387.1 L400.1 386.1 L402.2 385.3 L404.4 384.1 L406.5 383.7 L408.6 382.6 L410.6 382.3 L412.4 381.3 L415.1 381.3 L417.4 381.1 L420.0 380.7 L422.0 380.3 L424.3 380.4 L426.7 379.1 L429.1 379.1 L431.4 377.8 L433.7 377.6 L435.9 377.8 L438.2 376.7 L440.4 376.4 L442.7 376.7 L444.9 375.8 L447.2 376.0 L449.4 375.1 L451.7 374.6 L454.1 374.5 L456.2 374.0 L458.4 374.1 L460.6 373.7 L462.8 373.5 L465.1 373.1 L467.3 373.0 L469.5 371.8 L471.7 371.9 L473.9 370.8 L476.1 370.4 L478.3 370.0 L480.5 369.5 L482.7 368.8 L485.0 369.1 L487.3 368.8 L489.5 368.1 L491.7 367.1 L493.8 367.0 L496.2 366.3 L498.4 365.3 L500.5 365.4 L502.7 364.6 L505.1 364.5 L507.2 364.3 L509.5 363.6 L511.8 363.5 L514.0 363.8 L516.3 363.8 L518.4 363.3 L520.8 362.9 L523.1 362.8 L525.3 362.0 L527.5 362.0 L529.7 361.0 L532.0 360.5 L534.3 361.1 L536.5 360.8 L538.8 361.0 L541.1 360.2 L543.5 359.9 L546.2 359.7 L548.7 359.0 L550.9 358.7 L552.4 358.4" stroke="#e06a3c" stroke-width="1.25" fill="none" stroke-linejoin="round" stroke-dasharray="8 5"/>
<path d="M54.5 357.5 L58.3 357.3 L60.4 356.2 L62.6 356.0 L64.7 356.5 L67.0 357.3 L69.6 356.4 L72.4 356.4 L75.1 356.7 L77.8 356.7 L80.5 356.2 L83.2 356.2 L85.9 357.1 L88.6 357.5 L91.3 357.2 L94.0 356.8 L96.7 356.3 L99.4 356.1 L102.1 356.1 L104.8 356.5 L107.5 356.4 L110.2 357.1 L113.0 357.4 L115.6 357.1 L118.9 355.9 L120.9 356.3 L123.2 356.8 L125.3 357.2 L127.6 357.1 L129.7 356.6 L131.9 356.9 L134.0 356.5 L136.6 356.5 L139.4 356.2 L142.0 356.8 L144.8 357.8 L147.0 357.3 L149.3 356.6 L151.6 355.0 L153.9 354.5 L156.2 353.8 L158.3 353.7 L161.1 353.9 L163.7 353.9 L166.4 355.7 L169.1 356.1 L171.8 355.5 L174.5 355.1 L177.2 355.2 L179.9 355.0 L182.7 354.5 L185.4 353.0 L188.0 354.1 L190.8 354.4 L192.9 354.1 L195.2 354.0 L197.5 353.7 L199.8 353.5 L202.0 354.4 L204.3 355.2 L206.5 355.1 L208.8 355.1 L211.0 355.6 L213.3 355.2 L215.5 354.8 L217.8 355.2 L220.1 354.0 L222.5 353.9 L224.5 353.8 L226.6 354.6 L228.6 356.3 L229.5 357.1 L230.4 358.7 L231.4 360.7 L232.3 363.0 L233.2 364.7 L234.0 367.1 L234.6 368.7 L235.2 370.1 L235.6 372.3 L236.1 374.1 L236.6 376.4 L237.2 378.9 L237.5 380.8 L237.9 382.2 L238.2 383.9 L238.6 385.6 L239.0 388.5 L239.3 389.6 L239.7 391.9 L240.1 394.7 L240.5 396.6 L240.9 398.8 L241.3 401.2 L241.7 403.6 L242.1 404.6 L242.6 407.8 L243.1 409.7 L243.5 411.4 L244.0 414.4 L244.4 416.1 L244.9 417.7 L245.4 420.2 L245.9 422.0 L246.4 424.3 L247.0 425.9 L247.6 428.3 L248.3 430.6 L249.0 432.1 L249.7 434.1 L250.4 437.0 L251.2 438.2 L251.9 440.3 L252.7 441.7 L253.5 444.2 L254.4 446.1 L255.4 447.6 L256.3 450.2 L257.3 452.1 L258.4 453.0 L259.4 455.0 L260.5 456.4 L261.6 458.6 L262.9 460.6 L264.3 462.5 L265.7 464.3 L267.1 465.0 L268.6 467.4 L270.0 469.0 L271.4 470.5 L273.0 471.8 L274.7 473.3 L276.3 474.8 L277.9 476.8 L279.6 478.4 L281.2 480.2 L283.1 481.6 L285.1 482.5 L287.0 482.8 L289.0 483.7 L290.9 484.3 L292.9 485.0 L295.1 485.9 L297.1 486.9 L299.1 487.4 L300.7 487.5 L303.3 488.4 L305.3 486.4 L306.1 485.3 L306.9 483.6 L307.7 481.5 L308.6 479.3 L309.5 476.9 L310.5 474.4 L311.2 472.1 L311.9 470.8 L312.7 468.3 L313.4 466.5 L314.2 465.0 L315.0 462.8 L315.9 460.6 L316.7 458.9 L317.6 456.2 L318.5 454.4 L319.4 452.1 L320.4 450.7 L321.4 448.9 L322.4 446.8 L323.4 444.1 L324.4 442.1 L325.4 440.7 L326.4 438.5 L327.5 437.2 L328.5 434.6 L329.6 433.6 L330.6 431.4 L331.7 430.0 L332.8 427.7 L333.9 426.1 L335.1 425.3 L336.3 422.8 L337.6 421.7 L338.9 420.7 L340.2 418.3 L341.5 416.8 L342.9 415.7 L344.3 414.4 L345.7 412.5 L347.2 410.7 L348.7 409.1 L350.2 408.0 L351.7 405.8 L353.3 404.4 L354.9 403.5 L356.5 401.5 L358.0 400.8 L359.8 399.0 L361.5 397.6 L363.3 396.7 L365.0 395.6 L366.8 394.0 L368.5 392.2 L370.3 391.1 L372.1 390.6 L373.8 389.2 L375.6 387.5 L377.3 385.9 L379.1 384.5 L380.8 384.2 L382.6 382.3 L384.7 381.7 L386.8 380.3 L388.9 379.6 L390.9 378.5 L393.0 378.1 L394.9 377.3 L397.1 376.3 L399.2 375.6 L401.3 375.3 L403.3 374.4 L405.4 373.9 L407.6 373.5 L409.9 372.4 L412.2 372.7 L414.3 371.7 L416.0 371.3 L418.1 370.2 L420.0 369.3 L422.0 369.8 L424.4 368.8 L427.0 368.2 L429.5 367.9 L431.9 367.4 L434.2 366.0 L436.5 365.2 L438.9 365.3 L441.3 364.8 L443.6 364.5 L446.0 363.9 L448.4 364.0 L450.7 363.4 L453.0 363.9 L455.3 363.3 L457.8 363.1 L460.0 363.0 L462.3 362.2 L464.7 361.5 L467.0 360.5 L469.2 360.7 L471.7 360.7 L474.0 360.8 L476.3 360.9 L478.6 360.3 L481.0 359.7 L483.5 359.0 L485.9 358.8 L488.1 358.5 L490.1 359.3 L492.0 360.0 L493.9 360.4 L495.7 360.8 L497.5 360.9 L499.3 359.1 L501.2 357.4 L503.2 356.6 L505.5 356.6 L507.9 356.1 L510.4 356.8 L512.7 356.2 L515.4 356.9 L517.8 357.8 L520.3 358.5 L522.1 357.5 L523.9 356.3 L525.8 355.6 L527.8 354.7 L530.1 355.4 L532.5 356.1 L535.0 357.3 L537.3 356.9 L540.0 358.0 L542.4 357.7 L544.9 357.8 L547.7 358.2 L550.5 358.0 L552.4 358.4" stroke="#eeb844" stroke-width="1.35" fill="none" stroke-linejoin="round"/>
<path d="M54.5 357.5 L58.3 357.4 L59.9 356.7 L61.8 355.1 L63.7 354.5 L65.9 353.1 L68.2 352.7 L70.2 351.5 L72.5 351.5 L74.5 351.9 L76.6 353.5 L78.9 355.8 L81.6 356.5 L84.3 355.9 L86.4 354.4 L88.6 352.8 L90.6 353.8 L92.9 355.4 L95.1 355.6 L97.9 356.3 L100.5 355.5 L102.7 353.3 L104.8 352.5 L106.9 353.8 L109.1 355.2 L111.9 355.9 L114.5 355.3 L116.1 354.3 L117.8 352.6 L120.5 353.0 L123.2 353.7 L124.9 355.0 L126.4 356.0 L128.6 354.7 L130.8 353.8 L134.0 352.3 L135.7 352.7 L137.9 353.6 L140.1 354.8 L142.1 355.4 L144.8 354.3 L147.5 353.1 L149.4 353.0 L151.5 352.7 L153.7 352.8 L155.6 353.3 L158.5 352.1 L161.0 350.7 L162.7 351.2 L164.5 352.5 L166.4 353.5 L168.6 353.4 L170.9 352.3 L173.2 352.0 L175.4 353.5 L177.6 354.8 L179.9 355.2 L181.9 353.7 L184.1 351.9 L186.2 350.3 L188.1 349.1 L190.1 350.6 L191.7 351.7 L193.5 353.6 L195.6 353.9 L197.9 354.9 L200.2 355.4 L202.5 356.2 L204.8 356.9 L207.0 357.6 L208.9 356.9 L210.6 354.7 L212.4 354.0 L214.5 353.6 L216.8 354.1 L219.1 354.8 L221.4 355.1 L223.7 353.7 L225.9 353.7 L227.9 355.6 L229.8 356.5 L231.3 358.2 L232.5 358.3 L234.0 362.7 L234.4 364.6 L234.8 365.7 L235.2 367.7 L235.7 368.6 L236.2 370.6 L236.7 373.1 L237.3 374.9 L237.8 377.2 L238.4 379.9 L238.9 381.7 L239.5 383.9 L240.1 386.8 L240.6 388.8 L241.1 391.4 L241.6 393.4 L242.1 395.3 L242.6 397.3 L243.0 399.4 L243.5 401.4 L243.9 403.3 L244.3 405.2 L244.7 407.5 L245.1 409.4 L245.5 411.3 L246.0 413.8 L246.4 415.8 L246.8 417.8 L247.2 419.2 L247.7 421.2 L248.1 423.3 L248.6 424.1 L249.4 427.1 L250.3 429.4 L251.2 431.2 L252.1 432.5 L253.1 434.9 L254.0 435.7 L255.0 437.6 L255.9 438.8 L256.8 441.0 L258.1 443.2 L259.4 445.4 L260.8 446.8 L262.1 448.5 L263.5 450.7 L264.9 451.7 L266.4 453.5 L268.0 456.0 L269.6 457.2 L271.3 458.7 L273.0 460.4 L274.7 461.7 L276.5 463.1 L278.4 463.9 L280.4 465.6 L282.4 467.0 L284.3 468.0 L286.1 468.1 L288.2 469.3 L290.2 470.8 L292.1 471.2 L294.0 472.2 L295.8 473.0 L298.1 472.6 L300.3 472.8 L302.4 473.9 L304.0 473.6 L305.6 472.7 L307.0 470.3 L307.6 469.5 L308.3 467.4 L309.0 465.9 L309.8 464.1 L310.6 461.8 L311.5 459.2 L312.3 457.4 L313.2 455.0 L314.1 452.5 L315.0 451.4 L315.9 449.3 L316.9 446.5 L317.9 444.9 L318.8 442.9 L319.8 440.7 L320.8 438.5 L321.8 437.4 L322.8 434.9 L324.2 432.9 L325.7 431.4 L327.1 430.6 L328.5 429.6 L330.0 428.0 L331.6 426.8 L333.0 425.8 L334.4 424.0 L335.8 422.6 L337.3 420.3 L338.9 419.3 L340.5 417.4 L342.2 415.8 L343.6 414.7 L345.1 413.6 L346.6 411.5 L348.2 410.1 L349.8 409.3 L351.4 407.7 L353.0 406.4 L354.6 405.5 L356.2 404.0 L358.2 402.5 L360.3 401.8 L362.3 400.3 L364.4 399.6 L366.4 398.1 L368.4 397.4 L370.3 396.3 L372.5 396.3 L374.5 395.0 L376.6 394.6 L378.6 393.3 L380.6 393.3 L382.6 392.1 L384.7 391.9 L386.8 391.6 L388.9 391.5 L390.9 390.9 L393.0 390.4 L394.9 390.0 L397.1 388.6 L399.2 388.2 L401.3 386.2 L403.3 385.1 L405.4 384.5 L407.6 384.1 L409.9 382.5 L412.2 382.2 L414.3 381.8 L416.0 380.8 L417.9 379.0 L420.0 377.2 L421.8 377.0 L424.1 375.8 L426.6 375.8 L429.1 375.1 L431.4 374.1 L433.8 374.5 L436.1 375.3 L438.4 376.7 L440.8 376.0 L442.6 375.7 L444.5 374.4 L446.5 372.2 L448.5 370.6 L450.4 370.0 L452.2 368.5 L454.6 368.7 L456.9 369.3 L459.2 370.8 L461.6 371.2 L463.4 369.7 L465.3 369.3 L467.3 367.5 L469.3 366.7 L471.2 365.6 L473.0 365.5 L475.4 365.4 L477.6 364.9 L479.8 365.7 L482.4 365.9 L484.4 365.2 L486.6 364.8 L488.9 363.8 L491.3 364.1 L493.6 362.6 L495.7 362.6 L498.1 361.7 L500.4 360.7 L502.6 359.7 L504.8 360.0 L507.0 359.0 L509.3 359.9 L511.6 360.7 L514.0 360.8 L516.2 361.6 L518.4 362.7 L520.4 361.9 L522.2 361.6 L524.0 359.6 L525.8 359.1 L527.8 358.4 L529.9 357.3 L532.1 357.9 L534.4 357.4 L536.8 357.0 L539.2 356.1 L541.4 356.7 L544.0 356.5 L546.5 357.3 L548.9 357.0 L550.9 357.2 L552.4 357.4" stroke="#2e3c96" stroke-width="1.25" fill="none" stroke-linejoin="round" stroke-dasharray="8 5"/>
<path d="M54.5 358.0 L58.3 357.8 L60.4 358.5 L62.6 359.6 L64.8 359.7 L67.0 360.2 L69.2 359.5 L71.3 358.5 L73.4 358.0 L75.6 358.0 L78.2 356.9 L81.0 356.5 L83.8 358.1 L86.4 358.7 L88.7 359.0 L90.8 358.9 L93.0 359.0 L95.1 358.1 L97.2 358.0 L99.4 358.1 L101.5 357.0 L103.7 356.9 L105.9 358.7 L108.1 360.3 L110.3 359.3 L112.4 358.1 L114.6 357.7 L116.7 357.1 L119.9 359.0 L122.0 359.0 L124.3 358.9 L127.0 359.0 L129.7 359.8 L131.8 358.6 L134.0 358.4 L136.5 358.7 L139.4 358.3 L141.6 358.8 L144.0 360.3 L146.2 360.6 L148.9 360.5 L151.6 358.5 L153.7 358.9 L156.0 358.0 L158.3 358.3 L160.6 358.7 L162.8 357.7 L165.1 358.1 L167.4 357.9 L169.7 357.4 L171.8 357.8 L174.6 357.6 L177.2 356.4 L179.9 357.9 L182.6 358.4 L185.3 358.9 L188.1 359.9 L190.8 360.5 L193.5 360.4 L195.3 359.3 L197.1 357.6 L198.9 356.1 L200.7 357.4 L202.5 359.8 L204.3 362.0 L206.1 360.3 L207.9 358.9 L209.7 357.3 L212.3 356.4 L215.1 357.7 L217.3 358.0 L219.7 357.0 L221.8 357.4 L224.0 358.3 L225.9 359.5 L227.2 361.0 L228.6 362.5 L229.9 363.9 L230.7 365.2 L231.5 367.3 L232.3 369.0 L233.1 371.6 L234.0 373.6 L234.5 375.1 L234.9 377.7 L235.4 379.5 L235.9 381.3 L236.5 384.1 L237.0 386.5 L237.4 388.0 L237.9 390.4 L238.4 392.6 L238.8 395.0 L239.2 397.6 L239.6 399.9 L240.0 402.1 L240.4 404.4 L240.7 406.6 L241.1 407.8 L241.4 410.1 L241.7 412.2 L242.1 414.9 L242.5 416.4 L242.8 418.3 L243.1 421.1 L243.5 422.4 L243.8 424.6 L244.2 427.3 L244.6 428.8 L245.0 430.7 L245.4 432.8 L245.9 434.4 L246.5 436.4 L247.0 438.4 L247.6 441.0 L248.2 442.8 L248.8 444.3 L249.5 446.3 L250.2 448.9 L250.8 450.7 L251.5 452.5 L252.2 454.9 L252.9 457.5 L253.7 458.9 L254.4 461.4 L255.2 462.7 L256.0 464.7 L256.8 466.5 L258.0 469.4 L259.3 471.0 L260.6 472.9 L262.0 474.3 L263.4 476.7 L264.9 477.7 L266.4 480.4 L268.0 481.8 L269.7 483.5 L271.4 485.6 L273.1 487.0 L274.7 487.6 L276.6 489.4 L278.6 490.4 L280.5 491.3 L282.5 491.6 L284.4 492.7 L286.4 493.8 L288.5 494.5 L290.5 494.5 L292.4 494.5 L294.2 494.8 L296.7 496.5 L298.8 496.9 L300.7 496.9 L302.5 495.7 L304.0 495.5 L305.6 493.1 L306.4 491.7 L307.2 489.2 L307.9 488.0 L308.7 485.6 L309.6 483.6 L310.5 480.6 L311.2 478.9 L311.9 477.1 L312.7 475.7 L313.5 473.9 L314.3 470.9 L315.2 469.0 L316.0 467.4 L316.8 464.9 L317.6 463.5 L318.6 461.8 L319.6 459.9 L320.6 457.6 L321.6 456.3 L322.6 453.8 L323.6 453.3 L324.6 451.6 L326.0 449.0 L327.3 447.3 L328.7 446.1 L330.1 444.1 L331.6 442.2 L332.6 441.1 L333.7 439.2 L334.8 437.5 L335.9 435.4 L337.0 433.1 L338.2 431.5 L339.3 429.4 L340.4 428.6 L341.8 426.8 L343.3 424.7 L344.7 423.7 L346.1 422.5 L347.6 420.4 L349.2 419.3 L350.9 418.3 L352.6 416.8 L354.3 415.4 L356.1 415.0 L357.9 413.3 L359.7 412.9 L361.9 411.4 L364.1 410.6 L366.3 408.9 L368.4 407.6 L370.3 407.4 L373.0 406.7 L375.2 407.4 L377.3 406.3 L378.6 405.0 L379.7 402.9 L380.9 400.8 L382.6 399.5 L384.4 398.7 L386.5 398.1 L388.8 397.7 L391.0 397.1 L393.1 396.3 L395.4 396.0 L397.5 394.8 L399.6 393.0 L401.9 392.7 L403.9 391.5 L406.1 390.7 L408.3 391.2 L410.5 390.6 L412.4 390.0 L415.1 389.0 L417.4 388.8 L420.0 387.2 L421.8 386.8 L423.7 386.6 L425.6 385.8 L427.6 384.4 L429.5 383.5 L431.4 383.0 L433.2 382.2 L435.0 381.4 L436.9 381.4 L438.9 380.2 L440.7 379.3 L442.6 379.0 L444.6 378.3 L446.6 377.6 L448.5 376.2 L450.3 376.5 L452.8 376.1 L455.1 376.5 L457.4 377.8 L459.7 377.8 L461.6 377.1 L463.5 375.6 L465.4 374.9 L467.3 373.9 L469.2 372.8 L471.6 371.6 L474.0 372.1 L476.4 372.5 L478.6 371.2 L480.7 370.4 L482.6 369.7 L484.5 368.8 L486.2 367.8 L488.1 368.3 L489.8 368.9 L491.9 369.5 L493.6 368.7 L495.5 368.1 L497.5 366.4 L499.5 365.1 L501.3 365.3 L503.9 365.3 L506.3 366.4 L508.9 366.7 L510.7 366.3 L512.6 365.9 L514.5 365.0 L516.5 364.4 L518.4 363.3 L520.8 362.1 L523.3 361.7 L525.7 361.5 L527.8 361.3 L529.8 360.5 L531.5 359.2 L533.5 358.8 L535.6 358.2 L538.0 358.2 L540.5 358.4 L543.0 358.7 L545.6 357.9 L548.3 357.7 L550.7 357.2 L552.4 357.4" stroke="#2b80c8" stroke-width="1.35" fill="none" stroke-linejoin="round"/>
</g>
<path d="M78.5 524.5v-5.0M78.5 315.5v5.0M125.5 524.5v-5.0M125.5 315.5v5.0M173.5 524.5v-5.0M173.5 315.5v5.0M220.5 524.5v-5.0M220.5 315.5v5.0M268.5 524.5v-5.0M268.5 315.5v5.0M315.5 524.5v-5.0M315.5 315.5v5.0M363.5 524.5v-5.0M363.5 315.5v5.0M410.5 524.5v-5.0M410.5 315.5v5.0M458.5 524.5v-5.0M458.5 315.5v5.0M505.5 524.5v-5.0M505.5 315.5v5.0M553.5 524.5v-5.0M553.5 315.5v5.0M54.5 524.5h5.0M553.0 524.5h-5.0M54.5 482.5h5.0M553.0 482.5h-5.0M54.5 440.5h5.0M553.0 440.5h-5.0M54.5 399.5h5.0M553.0 399.5h-5.0M54.5 357.5h5.0M553.0 357.5h-5.0M54.5 315.5h5.0M553.0 315.5h-5.0" stroke="#7a7a7a" stroke-width="1" fill="none"/>
<rect x="54.5" y="315.5" width="498.5" height="209.0" stroke="#7a7a7a" stroke-width="1" fill="none"/>
<text x="79.2" y="543.1" font-size="18.7" text-anchor="middle" font-weight="normal" >-60</text>
<text x="126.7" y="543.1" font-size="18.7" text-anchor="middle" font-weight="normal" >-40</text>
<text x="174.2" y="543.1" font-size="18.7" text-anchor="middle" font-weight="normal" >-20</text>
<text x="220.7" y="543.1" font-size="18.7" text-anchor="middle" font-weight="normal" >0</text>
<text x="270.6" y="543.1" font-size="18.7" text-anchor="middle" font-weight="normal" >20</text>
<text x="318.1" y="543.1" font-size="18.7" text-anchor="middle" font-weight="normal" >40</text>
<text x="365.6" y="543.1" font-size="18.7" text-anchor="middle" font-weight="normal" >60</text>
<text x="413.1" y="543.1" font-size="18.7" text-anchor="middle" font-weight="normal" >80</text>
<text x="460.6" y="543.1" font-size="18.7" text-anchor="middle" font-weight="normal" >100</text>
<text x="508.0" y="543.1" font-size="18.7" text-anchor="middle" font-weight="normal" >120</text>
<text x="556.7" y="543.1" font-size="18.7" text-anchor="middle" font-weight="normal" >140</text>
<text x="52.9" y="530.4" font-size="18.7" text-anchor="end" font-weight="normal" >0.6</text>
<text x="52.9" y="488.6" font-size="18.7" text-anchor="end" font-weight="normal" >0.7</text>
<text x="52.9" y="446.8" font-size="18.7" text-anchor="end" font-weight="normal" >0.8</text>
<text x="52.9" y="405.0" font-size="18.7" text-anchor="end" font-weight="normal" >0.9</text>
<text x="52.9" y="363.2" font-size="18.7" text-anchor="end" font-weight="normal" >1</text>
<text x="52.9" y="321.4" font-size="18.7" text-anchor="end" font-weight="normal" >1.1</text>
<text x="290.2" y="308.2" font-size="19.6" text-anchor="start" font-weight="bold" fill="#000">HbR</text>
<rect x="223.2" y="781.5" width="73.2" height="7" fill="#dadada"/>
<g clip-path="url(#clipA3)">
<path d="M57.5 743.5V748.5M53.0 743.5h9M53.0 746.5h9M53.0 748.5h9" stroke="#4a4a4a" stroke-width="1" fill="none"/>
<path d="M98.5 739.5V757.0M94.0 739.5h9M94.0 745.5h9M94.0 746.5h9M94.0 747.5h9M94.0 752.5h9M94.0 757.5h9" stroke="#4a4a4a" stroke-width="1" fill="none"/>
<path d="M139.5 738.1V755.7M135.0 738.5h9M135.0 740.5h9M135.0 749.5h9M135.0 755.5h9" stroke="#4a4a4a" stroke-width="1" fill="none"/>
<path d="M181.5 738.1V761.1M177.0 738.5h9M177.0 740.5h9M177.0 744.5h9M177.0 751.5h9M177.0 757.5h9M177.0 761.5h9" stroke="#4a4a4a" stroke-width="1" fill="none"/>
<path d="M223.5 732.5V763.4M219.0 732.5h9M219.0 735.5h9M219.0 747.5h9M219.0 752.5h9M219.0 756.5h9M219.0 757.5h9M219.0 763.5h9" stroke="#4a4a4a" stroke-width="1" fill="none"/>
<path d="M264.5 630.7V721.9M260.0 630.5h9M260.0 669.5h9M260.0 671.5h9M260.0 676.5h9M260.0 688.5h9M260.0 696.5h9M260.0 721.5h9" stroke="#4a4a4a" stroke-width="1" fill="none"/>
<path d="M306.5 588.3V698.6M302.0 588.5h9M302.0 613.5h9M302.0 615.5h9M302.0 641.5h9M302.0 648.5h9M302.0 662.5h9M302.0 664.5h9M302.0 698.5h9" stroke="#4a4a4a" stroke-width="1" fill="none"/>
<path d="M348.5 663.5V730.2M344.0 663.5h9M344.0 683.5h9M344.0 703.5h9M344.0 705.5h9M344.0 716.5h9M344.0 730.5h9" stroke="#4a4a4a" stroke-width="1" fill="none"/>
<path d="M390.5 704.4V749.5M386.0 704.5h9M386.0 724.5h9M386.0 736.5h9M386.0 749.5h9" stroke="#4a4a4a" stroke-width="1" fill="none"/>
<path d="M431.5 726.5V760.2M427.0 726.5h9M427.0 735.5h9M427.0 741.5h9M427.0 744.5h9M427.0 750.5h9M427.0 760.5h9" stroke="#4a4a4a" stroke-width="1" fill="none"/>
<path d="M473.5 733.5V763.4M469.0 733.5h9M469.0 743.5h9M469.0 749.5h9M469.0 752.5h9M469.0 760.5h9M469.0 763.5h9" stroke="#4a4a4a" stroke-width="1" fill="none"/>
<path d="M515.5 737.5V764.3M511.0 737.5h9M511.0 744.5h9M511.0 750.5h9M511.0 752.5h9M511.0 758.5h9M511.0 761.5h9M511.0 764.5h9" stroke="#4a4a4a" stroke-width="1" fill="none"/>
<rect x="56.5" y="746.0" width="4.5" height="3.2" fill="#151515"/>
<path d="M54.5 745.0 L58.3 745.9 L60.9 745.1 L63.7 745.4 L66.4 745.5 L69.1 745.5 L70.9 747.6 L72.7 748.7 L74.5 749.3 L76.3 748.7 L78.2 746.1 L79.9 745.9 L82.1 746.4 L84.3 746.1 L86.0 745.3 L87.9 744.9 L89.7 744.2 L92.3 742.5 L95.1 742.3 L97.2 743.1 L99.5 745.4 L101.6 746.2 L104.3 746.3 L107.0 745.1 L109.2 743.7 L111.5 743.1 L113.5 742.0 L115.7 742.3 L117.8 743.1 L120.4 743.2 L123.2 742.6 L125.9 742.3 L128.6 741.8 L131.3 742.7 L134.0 743.7 L136.7 744.4 L139.4 744.6 L142.0 745.0 L144.8 746.4 L147.0 747.1 L149.3 747.3 L151.6 748.4 L153.8 748.6 L156.0 749.4 L158.3 748.5 L160.2 749.0 L162.3 748.3 L164.3 747.0 L166.4 746.8 L168.5 747.1 L170.5 746.7 L172.6 746.7 L174.5 746.4 L176.9 747.6 L179.1 747.9 L181.3 749.0 L183.6 749.3 L185.8 749.0 L188.1 748.6 L190.3 747.0 L192.6 746.1 L194.8 746.1 L197.0 745.8 L199.2 748.0 L201.6 748.6 L203.6 748.6 L205.7 748.4 L207.7 747.8 L209.7 748.0 L212.0 748.1 L214.2 748.1 L216.4 748.0 L218.7 749.4 L221.0 749.0 L223.2 749.8 L225.1 748.3 L226.9 746.5 L228.6 746.1 L231.4 745.0 L234.0 745.4 L237.2 745.1 L237.9 743.1 L238.6 742.4 L239.4 741.1 L240.2 738.3 L241.1 736.7 L242.0 734.9 L242.9 732.2 L243.7 730.1 L244.3 727.7 L244.8 726.4 L245.4 723.7 L245.9 722.3 L246.5 720.2 L247.0 717.8 L247.6 715.2 L248.2 712.9 L248.8 710.5 L249.5 708.7 L250.2 706.9 L251.3 705.2 L252.4 703.4 L253.6 700.9 L254.9 699.7 L256.2 697.6 L257.5 696.4 L258.8 694.5 L260.0 693.0 L261.0 690.8 L262.0 689.1 L262.9 687.4 L263.9 686.1 L264.9 683.5 L265.9 681.5 L266.9 679.7 L267.8 678.2 L268.8 676.7 L269.8 675.1 L271.0 673.1 L272.3 671.2 L273.5 669.0 L274.8 667.5 L276.0 665.3 L277.2 663.6 L278.4 661.9 L279.5 660.5 L280.8 658.1 L282.0 656.7 L283.2 655.0 L284.4 652.9 L285.5 651.4 L286.6 650.3 L287.7 648.8 L289.1 646.7 L290.3 644.8 L291.6 642.9 L292.8 640.8 L294.2 639.0 L295.8 637.4 L297.5 635.8 L299.2 634.3 L300.9 633.8 L302.3 632.0 L304.7 630.2 L307.0 629.7 L308.6 630.7 L310.4 632.5 L312.3 633.9 L314.1 635.7 L315.3 638.1 L316.4 639.8 L317.6 640.6 L318.8 642.8 L319.9 644.7 L321.1 646.5 L322.1 648.3 L323.0 650.9 L324.0 652.0 L325.0 654.5 L326.0 656.6 L327.0 658.6 L328.1 660.3 L329.0 662.7 L329.9 664.4 L330.9 666.0 L331.9 668.4 L332.9 670.2 L333.9 671.0 L334.9 673.4 L335.9 674.8 L336.9 676.9 L338.2 678.9 L339.4 680.5 L340.7 682.4 L341.9 684.3 L343.2 686.1 L344.4 687.7 L345.7 689.1 L347.1 691.0 L348.6 692.5 L350.0 694.6 L351.4 696.1 L352.9 698.0 L354.5 699.5 L355.7 700.9 L357.0 702.5 L358.3 704.2 L359.6 705.7 L361.0 707.8 L362.3 708.8 L363.7 710.0 L365.0 711.5 L366.7 713.5 L368.5 714.5 L370.2 716.2 L372.0 718.1 L373.7 719.1 L375.5 720.3 L377.3 722.1 L379.0 723.0 L380.8 724.6 L382.6 726.3 L384.3 727.1 L386.1 728.1 L387.9 729.7 L389.6 730.8 L391.3 732.0 L393.1 732.8 L394.8 733.7 L396.6 734.6 L398.7 735.6 L400.9 736.8 L403.1 737.9 L405.2 738.7 L407.2 739.9 L409.6 740.6 L412.0 741.0 L414.2 741.3 L416.0 741.6 L417.8 743.0 L420.0 744.0 L421.8 744.3 L424.0 744.7 L426.5 745.4 L429.0 745.7 L431.4 746.4 L433.7 746.8 L435.9 747.3 L438.2 748.2 L440.4 748.4 L442.7 748.9 L444.6 749.4 L446.6 751.0 L448.6 751.0 L450.6 751.6 L452.4 752.7 L454.1 753.5 L456.7 754.3 L459.0 754.2 L461.6 754.6 L463.6 754.6 L465.9 755.5 L468.3 755.3 L470.7 755.0 L473.0 754.4 L475.3 755.1 L477.5 755.0 L479.8 754.8 L482.0 755.2 L484.3 754.8 L486.6 754.4 L488.9 754.5 L491.1 753.5 L493.4 753.3 L495.7 753.2 L498.0 753.0 L500.2 754.0 L502.5 754.9 L504.7 755.3 L507.0 756.3 L509.2 755.8 L511.4 754.9 L513.6 754.9 L515.9 754.2 L518.4 753.5 L520.4 753.9 L522.6 753.0 L524.8 752.9 L527.1 753.2 L529.3 752.8 L531.5 752.4 L533.5 752.5 L536.0 752.0 L538.3 752.3 L540.5 751.5 L542.7 751.7 L544.9 752.0 L547.3 751.9 L550.0 752.0 L552.5 752.2 L554.7 753.2 L556.2 753.0" stroke="#e06a3c" stroke-width="1.25" fill="none" stroke-linejoin="round" stroke-dasharray="8 5"/>
<path d="M54.5 747.0 L58.3 747.4 L60.4 748.9 L62.6 749.6 L64.8 748.5 L67.0 747.3 L69.2 747.5 L71.3 747.0 L73.5 749.1 L75.6 750.7 L77.7 749.4 L79.9 749.6 L82.6 750.4 L85.4 751.2 L88.2 750.9 L90.8 749.9 L93.0 749.3 L95.1 748.8 L97.2 749.5 L99.4 750.8 L101.5 751.1 L103.7 749.9 L105.9 749.7 L108.1 749.2 L110.3 749.2 L112.4 750.5 L114.6 751.0 L116.7 752.2 L118.8 750.6 L121.0 750.0 L123.2 748.6 L125.4 748.6 L127.6 749.5 L129.7 750.6 L131.8 751.4 L134.0 751.3 L136.6 750.2 L139.4 749.4 L142.0 748.7 L144.8 747.9 L147.0 748.2 L149.3 748.5 L151.6 749.6 L153.8 750.8 L156.1 752.4 L158.3 753.5 L160.6 752.6 L162.8 750.2 L165.1 749.4 L167.3 749.7 L169.6 750.0 L171.8 750.4 L174.1 750.2 L176.3 749.1 L178.6 748.0 L180.9 748.1 L183.2 749.4 L185.4 749.2 L188.2 749.1 L190.8 748.3 L193.5 749.8 L196.2 750.6 L198.9 750.5 L201.6 750.1 L204.2 748.3 L207.0 747.8 L209.1 748.8 L211.4 749.1 L213.7 750.0 L216.0 750.8 L218.3 750.6 L220.5 751.2 L223.3 752.2 L225.9 751.1 L227.8 750.6 L229.7 748.7 L231.3 747.2 L234.0 744.4 L235.0 742.4 L236.0 741.4 L237.2 738.3 L237.8 737.0 L238.5 734.9 L239.2 733.0 L239.9 730.9 L240.7 728.3 L241.4 726.1 L242.1 724.0 L242.7 721.6 L243.3 720.0 L243.9 717.9 L244.4 715.8 L245.0 713.4 L245.7 712.0 L246.3 709.0 L247.0 706.8 L247.5 705.2 L248.1 703.9 L248.7 701.5 L249.3 699.4 L249.9 697.0 L250.6 696.0 L251.2 693.8 L251.8 690.9 L252.4 689.0 L253.0 687.8 L253.5 686.1 L254.4 683.6 L255.3 681.5 L256.2 678.8 L257.0 677.4 L257.7 675.7 L258.4 673.3 L258.9 671.0 L259.4 668.3 L259.8 666.8 L260.2 663.9 L260.6 662.3 L261.1 660.6 L261.6 658.3 L262.7 656.3 L263.8 654.0 L265.1 651.7 L266.5 650.0 L268.5 649.0 L270.8 648.1 L273.0 646.2 L274.3 644.4 L275.5 643.0 L276.8 640.5 L278.1 638.5 L279.5 636.5 L280.8 634.9 L282.1 633.8 L283.5 631.9 L284.9 630.6 L286.3 628.8 L287.7 627.1 L289.4 625.6 L291.0 624.3 L292.7 622.0 L294.3 620.5 L295.8 619.6 L297.6 616.9 L299.4 615.3 L301.0 613.5 L302.3 613.2 L305.3 612.9 L306.1 614.7 L307.0 615.8 L308.0 617.7 L309.1 619.3 L310.2 621.5 L311.3 623.3 L312.3 625.5 L313.2 627.3 L314.0 629.3 L314.9 631.1 L315.8 633.1 L316.7 635.8 L317.5 637.5 L318.4 639.9 L319.3 641.6 L320.1 643.2 L320.9 645.1 L321.7 646.8 L322.5 649.8 L323.2 651.1 L324.0 653.3 L324.8 654.7 L325.6 657.1 L326.4 659.4 L327.3 661.1 L328.2 663.1 L329.1 665.1 L330.0 666.9 L330.9 669.6 L331.8 671.4 L332.6 673.6 L333.4 674.9 L334.5 677.8 L335.6 678.9 L336.5 681.5 L337.6 682.9 L338.7 685.6 L339.6 687.8 L340.5 689.1 L341.4 691.5 L342.4 693.4 L343.4 695.7 L344.5 697.8 L345.7 699.6 L347.0 700.7 L348.4 702.9 L349.9 704.2 L351.5 705.2 L353.1 707.0 L354.7 708.3 L356.2 710.5 L357.5 711.9 L358.9 712.7 L360.3 715.4 L361.6 716.9 L363.0 717.8 L364.3 719.5 L365.6 721.7 L366.8 721.9 L369.1 723.2 L371.3 724.6 L373.4 725.3 L375.5 725.5 L377.0 727.0 L378.4 728.8 L379.9 730.0 L381.4 732.2 L382.8 733.4 L384.3 734.3 L386.5 736.3 L388.7 736.6 L390.9 738.2 L393.1 739.1 L395.3 739.8 L397.4 740.9 L399.6 742.9 L401.9 743.0 L403.9 743.8 L406.1 744.9 L408.3 745.5 L410.5 745.4 L412.4 746.0 L415.1 746.0 L417.4 746.8 L420.0 747.7 L422.2 748.0 L424.6 748.5 L427.1 749.2 L429.5 749.2 L431.9 749.2 L434.2 749.4 L436.5 749.3 L438.9 749.8 L441.3 750.5 L443.6 750.3 L446.0 750.5 L448.4 751.0 L450.7 750.8 L453.0 751.1 L455.3 749.8 L457.8 750.6 L460.0 750.4 L462.2 750.9 L464.6 751.5 L466.9 751.6 L469.2 752.2 L471.5 752.4 L473.8 752.4 L476.1 752.7 L478.4 752.9 L480.5 753.2 L483.0 753.4 L485.4 754.0 L487.7 754.6 L490.0 754.9 L491.9 754.0 L493.8 752.5 L495.7 751.4 L497.6 749.8 L499.5 749.6 L501.4 749.7 L503.3 751.5 L505.1 753.5 L507.0 755.3 L508.9 755.3 L510.8 755.7 L512.6 754.2 L514.5 753.5 L516.4 752.0 L518.4 750.8 L520.6 751.3 L522.9 752.5 L525.2 752.9 L527.5 753.1 L529.7 754.2 L532.2 753.1 L534.6 752.1 L536.9 751.6 L539.2 751.1 L541.6 751.7 L544.0 752.3 L546.4 753.4 L548.6 754.3 L550.8 753.1 L553.0 752.7 L554.9 752.1 L556.2 751.1" stroke="#eeb844" stroke-width="1.35" fill="none" stroke-linejoin="round"/>
<path d="M54.5 745.0 L58.3 744.9 L61.6 743.8 L63.7 744.6 L65.9 745.8 L68.2 746.0 L70.2 747.3 L71.4 749.3 L72.4 750.8 L74.5 752.1 L75.8 751.4 L77.4 749.5 L78.9 746.7 L81.1 745.5 L83.2 744.2 L84.7 746.7 L86.4 749.0 L89.0 749.2 L91.8 748.4 L94.5 748.4 L97.2 747.8 L99.9 748.3 L102.6 747.6 L105.4 746.4 L108.1 745.7 L110.3 744.5 L112.4 744.1 L114.4 744.0 L116.7 743.6 L118.8 742.8 L121.1 741.7 L123.2 742.0 L125.3 742.4 L127.5 743.8 L129.4 744.2 L131.6 744.5 L134.0 743.4 L136.0 742.5 L138.1 740.2 L140.2 739.0 L142.1 739.3 L143.4 739.4 L144.6 741.7 L145.7 744.1 L146.6 747.0 L147.5 747.8 L148.8 751.7 L150.2 752.0 L151.8 751.7 L153.7 749.2 L155.6 748.7 L158.3 748.3 L161.0 748.6 L163.6 748.4 L166.4 747.0 L168.7 747.2 L171.1 748.4 L173.2 747.8 L175.3 746.5 L177.2 743.7 L178.9 744.5 L180.7 745.9 L182.6 747.1 L184.4 748.0 L186.3 750.2 L188.1 750.7 L189.9 749.2 L191.7 746.6 L193.5 744.9 L196.4 744.8 L198.9 744.6 L200.4 742.6 L201.6 740.1 L202.4 737.9 L203.2 735.8 L204.3 734.5 L205.5 735.5 L206.8 737.9 L208.3 739.7 L209.7 742.0 L211.6 743.5 L213.5 744.7 L215.1 745.1 L216.1 743.2 L216.8 740.6 L217.8 739.0 L219.4 739.9 L221.3 742.1 L223.2 743.7 L225.9 743.9 L228.6 743.2 L230.4 741.7 L232.2 741.5 L234.0 739.9 L235.2 739.0 L236.2 737.7 L237.4 735.2 L238.8 733.1 L239.8 731.2 L240.9 729.4 L242.1 728.0 L243.3 725.7 L244.6 723.9 L245.8 721.3 L247.0 720.6 L248.6 719.0 L250.2 717.1 L251.9 715.8 L253.5 714.5 L255.1 713.9 L256.7 711.7 L258.3 710.7 L259.9 708.8 L261.6 707.4 L263.3 705.3 L264.8 704.8 L266.5 703.3 L268.1 701.2 L269.8 699.8 L271.5 699.3 L273.0 697.0 L274.4 695.6 L275.7 694.3 L277.0 692.7 L278.3 690.9 L279.7 688.6 L281.2 687.9 L283.3 687.0 L285.7 686.9 L288.1 687.2 L290.5 687.0 L292.6 686.2 L294.5 684.9 L296.2 683.9 L297.9 681.6 L299.4 680.8 L300.7 679.7 L303.1 679.6 L305.3 681.2 L307.5 680.8 L309.9 680.7 L312.3 681.5 L313.5 682.6 L314.6 685.0 L315.8 686.8 L317.0 688.8 L318.1 689.9 L319.3 692.2 L320.3 694.5 L321.3 695.9 L322.3 698.5 L323.2 701.0 L324.3 703.3 L325.3 704.8 L326.4 706.6 L328.0 708.8 L329.8 709.6 L331.5 711.6 L333.3 712.7 L335.1 713.2 L336.9 714.6 L338.7 716.1 L340.5 717.6 L342.3 718.4 L343.9 718.4 L346.4 719.3 L348.6 718.5 L350.9 719.3 L352.3 720.2 L353.7 722.1 L355.0 723.6 L356.5 726.2 L358.0 727.2 L359.6 729.4 L361.3 730.3 L363.1 730.6 L364.9 732.1 L366.8 733.0 L368.8 734.1 L371.0 734.8 L373.1 735.9 L375.3 737.2 L377.3 738.6 L379.6 739.1 L381.8 739.1 L383.9 738.8 L386.1 739.2 L388.3 739.7 L390.5 739.5 L392.7 740.2 L394.9 740.8 L397.1 741.7 L399.2 742.4 L401.4 742.5 L403.7 743.0 L405.8 744.5 L408.0 744.3 L410.3 745.4 L412.4 745.8 L414.2 746.0 L417.2 745.8 L420.0 745.0 L421.7 746.6 L423.5 747.4 L425.5 748.4 L427.5 749.8 L429.5 749.8 L431.9 749.9 L434.2 749.7 L436.5 748.8 L438.9 748.7 L441.3 749.8 L443.6 750.8 L446.0 751.3 L448.4 750.7 L450.3 750.8 L452.3 749.2 L454.3 747.7 L456.2 745.9 L457.8 745.2 L459.4 745.9 L460.6 748.2 L461.9 750.3 L463.5 751.3 L465.6 751.1 L467.9 750.7 L470.4 749.9 L473.0 750.0 L475.1 749.8 L477.4 750.2 L479.7 750.4 L482.0 750.6 L484.3 750.7 L486.6 750.9 L489.0 750.9 L491.4 750.6 L493.7 749.9 L495.7 749.8 L498.3 749.2 L500.6 749.2 L503.2 749.4 L505.2 749.3 L507.5 750.0 L509.9 750.3 L512.3 751.5 L514.6 751.6 L516.9 752.5 L519.3 753.7 L521.7 754.0 L523.9 755.1 L525.9 754.4 L528.0 754.7 L529.8 752.6 L531.6 751.4 L533.5 749.8 L535.8 749.3 L538.3 749.0 L540.7 748.9 L543.0 749.2 L545.1 750.2 L547.0 751.1 L548.8 751.1 L550.5 752.5 L553.8 751.8 L556.2 751.1" stroke="#2e3c96" stroke-width="1.25" fill="none" stroke-linejoin="round" stroke-dasharray="8 5"/>
<path d="M54.5 745.0 L58.3 746.5 L61.6 743.8 L63.7 744.5 L65.9 745.8 L68.1 745.0 L70.2 743.5 L71.7 745.0 L73.1 746.1 L74.5 747.9 L77.8 750.2 L80.0 751.3 L82.1 751.1 L83.8 749.7 L85.4 747.2 L87.0 744.6 L88.6 743.2 L91.8 744.3 L95.1 745.8 L97.1 747.1 L99.4 747.4 L102.1 746.0 L104.8 745.8 L107.0 746.3 L109.1 748.6 L111.4 750.1 L113.5 752.2 L115.2 750.1 L116.7 747.5 L118.3 744.1 L119.9 742.5 L123.2 744.5 L125.2 746.3 L127.5 747.2 L129.5 746.6 L131.8 746.4 L134.0 746.4 L136.0 748.8 L137.8 751.2 L139.4 752.1 L140.4 751.0 L141.2 748.8 L142.1 746.4 L144.1 744.4 L146.2 743.3 L148.1 745.0 L150.2 746.5 L151.9 748.1 L153.7 749.4 L155.6 749.9 L158.3 749.7 L161.0 748.7 L163.7 747.4 L166.4 747.0 L168.2 748.6 L170.0 750.9 L171.8 751.5 L173.2 750.6 L174.5 749.2 L175.8 746.7 L177.2 745.3 L179.9 745.9 L182.6 747.3 L184.4 747.6 L186.3 748.9 L188.1 749.4 L189.9 749.2 L191.7 747.3 L193.5 746.7 L195.3 747.2 L197.1 748.8 L198.9 749.1 L200.2 748.4 L201.6 746.7 L203.0 745.0 L204.3 743.6 L206.1 744.1 L207.9 747.1 L209.7 748.1 L212.4 748.8 L215.1 748.1 L217.8 746.9 L220.5 747.4 L222.4 748.0 L224.2 748.7 L225.9 749.7 L227.3 748.7 L228.6 746.1 L229.9 744.5 L231.8 742.5 L234.0 739.8 L234.6 738.5 L235.3 737.5 L236.0 734.5 L236.8 732.4 L237.6 730.3 L238.4 727.7 L239.1 726.0 L239.8 724.1 L240.5 723.0 L242.3 720.6 L243.8 720.3 L245.4 718.4 L246.2 717.1 L246.9 715.1 L247.6 714.0 L248.4 711.8 L249.2 709.0 L250.2 707.3 L251.1 706.0 L252.0 703.6 L253.0 702.3 L254.1 699.6 L255.2 697.7 L256.3 696.5 L257.4 694.5 L258.4 692.5 L259.7 690.9 L261.0 689.0 L262.4 686.8 L263.7 685.4 L265.1 684.0 L266.5 681.4 L267.3 679.4 L268.2 677.9 L269.1 675.2 L270.1 673.7 L271.0 670.8 L272.0 669.4 L272.9 667.3 L273.8 664.4 L274.7 663.4 L275.5 661.3 L276.3 660.4 L278.7 657.9 L280.8 658.0 L282.8 656.6 L284.1 655.1 L285.5 653.1 L286.8 651.7 L288.1 650.3 L289.3 648.2 L291.8 648.2 L294.2 646.5 L295.2 646.0 L296.3 643.5 L297.5 641.5 L298.6 639.3 L299.7 637.4 L300.7 635.9 L303.1 635.9 L305.3 638.9 L306.1 640.0 L306.9 642.1 L307.7 644.1 L308.6 646.3 L309.5 648.4 L310.5 650.4 L312.1 651.8 L313.9 654.3 L315.8 655.0 L317.6 656.8 L319.0 659.0 L320.5 661.2 L321.9 662.9 L323.3 664.6 L324.6 666.0 L326.7 665.8 L328.7 665.9 L330.7 665.2 L331.9 666.6 L333.1 668.3 L334.4 670.6 L335.6 672.5 L336.9 674.4 L338.2 676.9 L339.6 678.4 L341.1 680.5 L342.5 681.7 L343.9 684.0 L345.3 685.2 L346.6 687.3 L348.0 688.0 L349.4 689.7 L350.9 691.3 L352.6 693.6 L354.4 694.4 L356.2 696.2 L358.0 698.0 L359.7 699.1 L361.6 700.7 L363.5 702.3 L365.2 703.1 L366.8 704.6 L368.7 706.6 L370.3 707.4 L372.0 709.4 L373.8 710.7 L375.5 711.9 L377.3 713.9 L379.1 715.3 L380.8 717.3 L382.6 718.7 L385.1 719.7 L387.8 720.9 L389.4 721.2 L391.2 722.7 L393.1 723.6 L394.9 724.4 L396.7 726.0 L398.4 726.8 L400.2 728.0 L401.9 728.8 L404.2 730.7 L406.6 731.7 L408.9 732.4 L411.4 731.6 L413.9 731.7 L416.0 730.8 L418.0 731.9 L420.0 733.5 L421.7 735.4 L423.8 736.8 L425.8 737.8 L427.6 738.5 L429.4 738.3 L430.8 735.7 L432.3 734.5 L433.8 735.9 L435.2 738.4 L437.0 739.5 L439.4 739.4 L442.2 739.6 L444.6 738.9 L447.1 737.7 L449.3 737.2 L450.9 739.0 L452.4 740.9 L454.1 742.9 L455.9 742.1 L457.8 741.1 L459.7 739.2 L461.6 739.9 L463.5 741.2 L465.4 741.1 L467.4 741.5 L469.3 739.8 L471.1 739.7 L473.0 741.9 L474.9 743.8 L476.6 741.7 L478.5 740.1 L480.5 738.6 L481.8 740.1 L483.2 741.2 L484.5 743.8 L485.9 745.6 L487.2 745.8 L489.1 744.5 L490.9 742.6 L492.8 741.2 L494.4 741.8 L496.1 742.7 L497.9 744.6 L499.5 745.0 L502.4 745.6 L505.1 743.5 L507.0 742.2 L508.9 739.5 L510.8 739.0 L512.2 740.2 L513.7 741.4 L515.1 743.4 L516.5 745.0 L518.3 744.1 L520.2 741.4 L522.2 740.6 L524.6 740.9 L527.1 740.8 L529.7 742.0 L531.6 742.0 L533.5 743.7 L535.4 744.9 L537.3 745.6 L539.9 746.2 L542.5 745.0 L544.9 744.1 L546.4 742.7 L547.8 740.2 L549.1 738.8 L550.5 737.9 L552.1 738.2 L553.7 741.0 L555.2 743.5 L556.2 744.5" stroke="#2b80c8" stroke-width="1.35" fill="none" stroke-linejoin="round"/>
</g>
<path d="M80.5 789.0v-5.0M80.5 580.9v5.0M127.5 789.0v-5.0M127.5 580.9v5.0M175.5 789.0v-5.0M175.5 580.9v5.0M223.5 789.0v-5.0M223.5 580.9v5.0M270.5 789.0v-5.0M270.5 580.9v5.0M318.5 789.0v-5.0M318.5 580.9v5.0M366.5 789.0v-5.0M366.5 580.9v5.0M413.5 789.0v-5.0M413.5 580.9v5.0M461.5 789.0v-5.0M461.5 580.9v5.0M508.5 789.0v-5.0M508.5 580.9v5.0M556.5 789.0v-5.0M556.5 580.9v5.0M56.5 789.5h5.0M556.5 789.5h-5.0M56.5 747.5h5.0M556.5 747.5h-5.0M56.5 705.5h5.0M556.5 705.5h-5.0M56.5 664.5h5.0M556.5 664.5h-5.0M56.5 622.5h5.0M556.5 622.5h-5.0M56.5 580.5h5.0M556.5 580.5h-5.0" stroke="#7a7a7a" stroke-width="1" fill="none"/>
<rect x="56.5" y="580.9" width="500.0" height="208.1" stroke="#7a7a7a" stroke-width="1" fill="none"/>
<text x="81.3" y="807.6" font-size="18.7" text-anchor="middle" font-weight="normal" >-60</text>
<text x="128.9" y="807.6" font-size="18.7" text-anchor="middle" font-weight="normal" >-40</text>
<text x="176.5" y="807.6" font-size="18.7" text-anchor="middle" font-weight="normal" >-20</text>
<text x="223.2" y="807.6" font-size="18.7" text-anchor="middle" font-weight="normal" >0</text>
<text x="273.3" y="807.6" font-size="18.7" text-anchor="middle" font-weight="normal" >20</text>
<text x="320.9" y="807.6" font-size="18.7" text-anchor="middle" font-weight="normal" >40</text>
<text x="368.5" y="807.6" font-size="18.7" text-anchor="middle" font-weight="normal" >60</text>
<text x="416.1" y="807.6" font-size="18.7" text-anchor="middle" font-weight="normal" >80</text>
<text x="463.8" y="807.6" font-size="18.7" text-anchor="middle" font-weight="normal" >100</text>
<text x="511.4" y="807.6" font-size="18.7" text-anchor="middle" font-weight="normal" >120</text>
<text x="560.2" y="807.6" font-size="18.7" text-anchor="middle" font-weight="normal" >140</text>
<text x="54.9" y="794.9" font-size="18.7" text-anchor="end" font-weight="normal" >0.98</text>
<text x="54.9" y="753.3" font-size="18.7" text-anchor="end" font-weight="normal" >1</text>
<text x="54.9" y="711.7" font-size="18.7" text-anchor="end" font-weight="normal" >1.02</text>
<text x="54.9" y="670.0" font-size="18.7" text-anchor="end" font-weight="normal" >1.04</text>
<text x="54.9" y="628.4" font-size="18.7" text-anchor="end" font-weight="normal" >1.06</text>
<text x="54.9" y="586.8" font-size="18.7" text-anchor="end" font-weight="normal" >1.08</text>
<text x="292.6" y="573.6" font-size="19.6" text-anchor="start" font-weight="bold" fill="#000">HbT</text>
<rect x="220.0" y="1049.0" width="73.2" height="7" fill="#dadada"/>
<g clip-path="url(#clipA4)">
<path d="M55.5 1026.4V1046.4M51.0 1026.5h9M51.0 1031.5h9M51.0 1036.5h9M51.0 1046.5h9" stroke="#4a4a4a" stroke-width="1" fill="none"/>
<path d="M97.5 1030.7V1047.4M93.0 1030.5h9M93.0 1032.5h9M93.0 1038.5h9M93.0 1041.5h9M93.0 1047.5h9" stroke="#4a4a4a" stroke-width="1" fill="none"/>
<path d="M140.5 1027.6V1045.1M136.0 1027.5h9M136.0 1029.5h9M136.0 1037.5h9M136.0 1039.5h9M136.0 1045.5h9" stroke="#4a4a4a" stroke-width="1" fill="none"/>
<path d="M182.5 1030.9V1043.1M178.0 1030.5h9M178.0 1034.5h9M178.0 1037.5h9M178.0 1039.5h9M178.0 1043.5h9" stroke="#4a4a4a" stroke-width="1" fill="none"/>
<path d="M225.5 1019.5V1037.0M221.0 1019.5h9M221.0 1022.5h9M221.0 1026.5h9M221.0 1028.5h9M221.0 1037.5h9" stroke="#4a4a4a" stroke-width="1" fill="none"/>
<path d="M267.5 959.4V1014.0M263.0 959.5h9M263.0 970.5h9M263.0 976.5h9M263.0 983.5h9M263.0 993.5h9M263.0 1007.5h9M263.0 1014.5h9" stroke="#4a4a4a" stroke-width="1" fill="none"/>
<path d="M310.5 868.5V976.1M306.0 868.5h9M306.0 909.5h9M306.0 911.5h9M306.0 919.5h9M306.0 937.5h9M306.0 952.5h9M306.0 960.5h9M306.0 976.5h9" stroke="#4a4a4a" stroke-width="1" fill="none"/>
<path d="M353.5 902.9V984.1M349.0 902.5h9M349.0 928.5h9M349.0 952.5h9M349.0 954.5h9M349.0 955.5h9M349.0 966.5h9M349.0 979.5h9M349.0 984.5h9" stroke="#4a4a4a" stroke-width="1" fill="none"/>
<path d="M396.5 962.4V1020.8M392.0 962.5h9M392.0 977.5h9M392.0 990.5h9M392.0 1001.5h9M392.0 1004.5h9M392.0 1006.5h9M392.0 1020.5h9" stroke="#4a4a4a" stroke-width="1" fill="none"/>
<path d="M439.5 1000.0V1033.2M435.0 1000.5h9M435.0 1003.5h9M435.0 1020.5h9M435.0 1022.5h9M435.0 1024.5h9M435.0 1033.5h9" stroke="#4a4a4a" stroke-width="1" fill="none"/>
<path d="M482.5 1004.3V1045.2M478.0 1004.5h9M478.0 1020.5h9M478.0 1029.5h9M478.0 1031.5h9M478.0 1045.5h9" stroke="#4a4a4a" stroke-width="1" fill="none"/>
<path d="M524.5 1006.6V1047.0M520.0 1006.5h9M520.0 1025.5h9M520.0 1030.5h9M520.0 1032.5h9M520.0 1039.5h9M520.0 1047.5h9" stroke="#4a4a4a" stroke-width="1" fill="none"/>
<rect x="53.5" y="1027.0" width="5.0" height="3.0" fill="#151515"/>
<path d="M54.0 1043.6 L55.1 1043.8 L57.0 1042.9 L59.4 1041.0 L61.2 1040.7 L63.0 1039.5 L64.8 1038.7 L66.9 1038.9 L69.1 1039.7 L70.9 1041.0 L72.7 1043.0 L74.5 1043.8 L76.7 1044.4 L78.9 1043.1 L81.6 1042.7 L84.3 1041.9 L86.5 1042.0 L88.6 1042.9 L91.2 1044.1 L94.0 1044.2 L96.7 1043.4 L99.4 1041.7 L102.2 1042.3 L104.8 1042.3 L107.0 1042.5 L109.1 1041.1 L110.9 1039.5 L112.7 1039.4 L114.5 1038.1 L116.7 1038.5 L118.9 1038.8 L121.5 1037.7 L124.3 1037.8 L127.1 1038.2 L129.7 1039.6 L131.8 1039.5 L134.0 1038.6 L136.5 1040.2 L139.4 1041.1 L141.3 1040.9 L143.4 1040.3 L145.5 1039.4 L147.5 1039.6 L149.9 1038.7 L152.1 1038.0 L154.3 1037.7 L156.6 1038.6 L158.9 1038.4 L161.0 1039.2 L163.8 1039.5 L166.4 1039.2 L168.2 1040.5 L170.0 1041.5 L171.8 1041.9 L174.4 1042.0 L177.2 1041.6 L179.4 1039.7 L181.7 1038.6 L184.0 1036.5 L186.3 1035.8 L188.5 1034.4 L190.8 1033.8 L193.0 1034.8 L195.3 1035.1 L197.5 1034.6 L199.8 1034.8 L202.1 1035.2 L204.3 1034.1 L206.2 1033.3 L208.0 1031.9 L209.7 1030.3 L211.1 1027.7 L212.6 1026.0 L213.9 1023.3 L215.1 1021.8 L216.1 1024.0 L216.8 1026.4 L217.8 1028.5 L220.3 1028.0 L223.2 1027.8 L225.9 1028.7 L228.6 1029.3 L230.3 1031.4 L232.0 1033.6 L234.0 1034.9 L235.9 1035.3 L237.9 1034.2 L240.1 1033.8 L242.3 1033.5 L244.5 1033.8 L246.7 1034.3 L249.0 1035.4 L251.2 1034.7 L252.5 1032.9 L253.8 1031.6 L255.1 1030.2 L256.4 1027.4 L257.6 1025.2 L258.8 1022.8 L260.0 1021.1 L260.9 1019.3 L261.8 1017.2 L262.7 1014.8 L263.5 1012.4 L264.3 1011.3 L265.2 1009.0 L266.0 1006.7 L267.0 1005.4 L268.4 1003.6 L269.8 1002.0 L271.3 1000.2 L272.9 998.9 L274.4 997.8 L275.9 996.8 L277.4 994.6 L278.9 993.3 L280.4 992.6 L281.9 990.9 L283.3 989.6 L284.7 987.9 L285.8 985.8 L286.8 983.8 L287.7 981.6 L288.7 979.2 L289.6 977.4 L290.6 975.3 L291.7 973.0 L293.3 971.7 L295.1 971.4 L296.9 969.9 L298.7 969.0 L300.5 968.0 L302.0 966.9 L303.5 964.9 L304.9 963.6 L306.4 960.9 L307.9 958.8 L309.4 957.1 L310.9 955.9 L312.3 954.8 L313.8 952.8 L315.3 951.2 L316.7 949.8 L318.2 948.9 L320.0 946.9 L321.8 944.7 L323.7 942.8 L325.4 941.8 L327.1 941.1 L328.9 941.5 L330.6 942.4 L332.3 943.8 L334.1 946.1 L335.4 947.9 L336.8 949.1 L338.3 950.7 L339.8 952.0 L341.3 954.0 L342.9 956.3 L344.1 957.7 L345.4 958.5 L346.7 960.3 L348.1 962.3 L349.4 964.3 L350.8 966.6 L352.2 968.0 L353.5 969.8 L354.8 971.9 L356.1 974.1 L357.5 975.2 L358.8 976.6 L360.1 978.6 L361.5 980.9 L362.8 982.0 L364.1 983.6 L365.4 985.5 L366.8 987.3 L368.1 988.6 L369.4 991.0 L370.7 992.2 L372.0 993.3 L373.4 994.5 L374.7 996.2 L376.5 997.6 L378.2 999.4 L380.0 1001.4 L381.8 1002.9 L383.5 1003.9 L385.3 1005.6 L387.1 1006.6 L388.8 1007.2 L390.6 1009.3 L392.4 1009.6 L394.1 1010.9 L395.9 1012.3 L398.0 1013.0 L400.0 1014.8 L402.1 1015.7 L404.2 1017.2 L406.4 1018.0 L408.4 1018.7 L410.5 1018.5 L412.6 1019.7 L414.7 1020.5 L416.8 1020.7 L418.8 1021.0 L421.0 1022.5 L423.1 1023.6 L425.2 1024.4 L427.3 1025.4 L429.4 1025.4 L431.6 1025.4 L433.7 1025.8 L435.9 1025.5 L438.2 1025.2 L440.5 1024.6 L442.5 1024.8 L444.6 1025.4 L446.7 1026.2 L448.8 1026.9 L450.8 1026.6 L452.8 1027.1 L455.0 1028.5 L457.1 1029.0 L459.1 1029.5 L461.2 1029.4 L463.4 1030.6 L465.4 1031.0 L467.4 1031.6 L469.6 1032.6 L471.7 1034.0 L473.7 1034.8 L475.7 1035.5 L477.9 1036.1 L480.0 1035.9 L482.1 1035.1 L484.1 1034.9 L486.2 1035.2 L488.3 1035.1 L490.4 1034.9 L492.6 1035.0 L494.7 1035.5 L496.8 1035.8 L498.9 1035.4 L501.0 1035.8 L503.1 1036.6 L505.2 1037.6 L507.3 1037.1 L509.4 1037.0 L511.5 1036.6 L513.6 1037.1 L515.7 1036.4 L517.8 1036.8 L519.9 1036.3 L522.0 1037.2 L524.2 1038.9 L526.3 1039.1 L528.4 1038.6 L530.6 1038.7 L532.8 1037.3 L534.9 1035.5 L537.0 1034.6 L538.9 1033.9 L541.5 1033.7 L543.8 1035.1 L546.0 1035.9 L548.6 1034.1 L551.2 1032.6 L553.0 1032.0" stroke="#e06a3c" stroke-width="1.25" fill="none" stroke-linejoin="round" stroke-dasharray="8 5"/>
<path d="M54.0 1028.5 L55.1 1028.8 L58.3 1028.1 L60.4 1029.7 L62.6 1032.0 L65.9 1031.4 L67.9 1030.1 L70.2 1028.6 L73.0 1027.6 L75.6 1027.0 L77.3 1028.8 L78.9 1031.1 L81.1 1032.3 L83.2 1033.0 L86.4 1034.0 L88.1 1033.0 L90.1 1031.5 L91.8 1029.1 L95.1 1032.3 L97.7 1032.6 L100.5 1032.7 L103.2 1033.3 L105.9 1034.5 L108.6 1035.6 L111.3 1035.5 L114.1 1034.9 L116.7 1035.3 L118.9 1036.1 L121.0 1036.4 L123.2 1035.4 L125.4 1034.4 L127.6 1034.3 L129.7 1033.5 L131.8 1034.5 L134.0 1034.8 L136.6 1034.8 L139.4 1033.6 L142.0 1032.3 L144.8 1032.4 L147.0 1032.0 L149.4 1032.5 L151.6 1033.4 L154.3 1033.6 L157.0 1034.2 L159.2 1034.0 L161.5 1032.3 L163.7 1032.1 L166.5 1032.0 L169.1 1032.5 L170.8 1033.6 L172.6 1034.1 L174.5 1034.9 L176.7 1035.6 L179.0 1036.3 L181.3 1036.1 L183.7 1034.6 L186.0 1033.2 L188.1 1032.4 L190.2 1031.1 L192.1 1031.1 L193.7 1031.8 L195.5 1033.0 L197.5 1033.2 L199.7 1033.4 L202.1 1031.5 L204.3 1030.1 L207.1 1028.8 L209.7 1029.1 L212.3 1029.7 L215.1 1030.2 L217.2 1030.1 L219.5 1029.2 L221.8 1029.1 L224.1 1028.5 L226.4 1027.4 L228.6 1027.6 L231.5 1028.0 L234.0 1027.9 L235.4 1029.9 L237.0 1031.4 L238.5 1033.1 L240.3 1034.0 L242.2 1035.2 L244.1 1036.3 L245.9 1035.3 L247.8 1034.1 L249.6 1032.6 L251.2 1029.5 L251.9 1028.9 L252.5 1026.2 L253.1 1024.2 L253.6 1022.5 L254.2 1020.8 L254.7 1017.7 L255.3 1016.4 L255.8 1013.8 L256.4 1012.4 L257.4 1010.3 L258.3 1007.5 L259.3 1006.0 L260.4 1004.0 L261.7 1001.6 L262.5 999.8 L263.4 998.5 L264.4 995.6 L265.4 994.3 L266.5 991.5 L267.5 990.1 L268.6 987.3 L269.6 986.1 L270.6 984.6 L272.1 982.3 L273.5 980.6 L275.0 978.0 L276.5 977.1 L277.9 975.4 L279.4 974.0 L280.7 971.9 L281.9 969.9 L283.2 967.9 L284.4 966.2 L285.7 965.0 L286.9 962.4 L288.2 961.6 L289.5 959.5 L290.7 957.2 L292.0 955.4 L293.2 954.3 L294.5 952.1 L295.7 950.8 L297.0 948.5 L298.5 947.0 L299.9 945.4 L301.4 943.7 L302.9 941.8 L304.3 940.4 L305.8 938.7 L307.3 936.8 L308.8 935.6 L310.2 933.5 L311.7 932.8 L313.2 930.6 L314.7 929.2 L316.2 927.6 L317.8 926.7 L319.4 924.7 L321.0 923.3 L322.3 922.0 L323.5 920.1 L325.5 917.9 L327.1 918.2 L327.7 918.8 L328.4 920.5 L329.0 923.4 L329.7 926.0 L330.5 928.8 L331.3 930.9 L332.3 932.4 L333.4 935.0 L334.6 937.2 L335.9 937.9 L337.2 940.0 L338.6 942.0 L339.9 944.0 L341.2 945.7 L342.5 947.0 L343.8 948.7 L345.1 951.0 L346.4 952.7 L347.6 954.4 L348.8 955.5 L350.0 958.1 L351.1 959.9 L352.1 961.9 L353.1 963.3 L354.1 966.4 L355.0 967.6 L356.0 970.2 L357.0 971.7 L358.4 973.5 L359.8 975.5 L361.3 977.6 L362.7 979.5 L364.1 980.7 L366.4 982.0 L368.7 982.6 L371.2 984.6 L372.9 984.9 L374.6 987.0 L376.4 988.7 L378.2 989.3 L380.0 991.6 L381.8 992.1 L383.6 993.3 L385.4 994.0 L387.1 995.5 L388.8 996.8 L391.2 998.1 L393.5 999.1 L395.9 999.4 L398.0 1001.2 L400.2 1001.6 L402.5 1002.7 L404.7 1004.6 L406.9 1005.1 L409.1 1006.8 L411.3 1008.2 L413.5 1008.5 L415.7 1010.1 L418.0 1009.9 L420.2 1010.9 L422.3 1011.0 L425.0 1011.7 L427.5 1012.3 L430.0 1012.3 L432.2 1012.9 L434.3 1014.3 L437.0 1015.0 L438.7 1014.0 L440.7 1013.4 L442.8 1013.4 L445.0 1012.6 L447.2 1013.0 L449.3 1013.0 L451.1 1013.4 L452.9 1014.4 L454.8 1015.1 L456.6 1016.9 L458.3 1018.4 L460.0 1019.3 L461.6 1019.9 L464.0 1020.1 L466.1 1018.9 L468.2 1017.6 L470.4 1017.3 L472.4 1017.0 L474.6 1016.4 L476.8 1017.3 L479.0 1017.0 L481.0 1017.6 L483.3 1017.3 L485.6 1016.6 L487.7 1016.8 L489.7 1016.6 L492.1 1015.4 L494.4 1014.7 L496.8 1015.0 L498.9 1016.5 L501.1 1017.5 L503.4 1018.7 L505.5 1020.0 L508.0 1019.4 L510.3 1018.8 L512.6 1017.1 L514.4 1015.3 L516.2 1013.7 L518.0 1012.4 L519.6 1011.8 L521.0 1013.0 L522.2 1014.5 L523.5 1016.2 L524.9 1017.5 L527.0 1019.4 L529.4 1020.1 L531.9 1020.7 L533.6 1020.0 L535.4 1018.0 L537.2 1016.0 L539.0 1014.4 L540.7 1013.4 L542.6 1013.9 L544.4 1016.6 L546.1 1018.1 L547.7 1019.6 L550.8 1019.4 L553.0 1018.9" stroke="#eeb844" stroke-width="1.35" fill="none" stroke-linejoin="round"/>
<path d="M54.0 1033.4 L55.1 1033.4 L58.3 1035.0 L60.3 1035.3 L62.7 1035.2 L64.8 1035.0 L67.0 1035.3 L69.1 1036.5 L70.9 1035.2 L72.7 1032.4 L74.5 1030.7 L76.6 1031.7 L78.9 1033.3 L80.9 1032.8 L83.2 1033.0 L85.4 1034.4 L87.6 1034.6 L89.8 1036.5 L91.8 1037.4 L94.1 1037.8 L96.2 1038.6 L98.4 1038.7 L100.5 1038.3 L101.9 1037.5 L103.3 1035.3 L104.8 1034.0 L107.4 1033.3 L110.2 1033.8 L112.3 1033.3 L114.5 1034.0 L116.7 1033.5 L118.9 1034.5 L121.0 1034.1 L123.2 1033.5 L124.9 1033.4 L126.6 1031.9 L128.2 1030.1 L129.7 1029.1 L131.8 1028.7 L134.0 1028.5 L136.1 1030.4 L138.4 1031.1 L140.8 1031.8 L143.2 1032.4 L145.6 1031.8 L147.5 1031.4 L148.8 1033.9 L150.2 1036.5 L151.9 1036.2 L154.0 1034.7 L156.2 1033.8 L158.3 1031.9 L160.8 1032.1 L163.1 1031.9 L165.1 1032.3 L167.1 1034.3 L169.1 1036.4 L171.2 1035.9 L173.5 1033.8 L175.9 1033.1 L178.2 1033.1 L180.5 1033.2 L182.6 1032.7 L185.4 1032.8 L188.1 1033.3 L190.7 1034.2 L193.5 1034.5 L195.6 1034.5 L197.9 1033.6 L200.2 1032.7 L202.5 1032.0 L204.7 1031.4 L207.0 1030.8 L209.2 1029.8 L211.5 1028.4 L213.7 1027.7 L216.0 1027.6 L218.3 1027.5 L220.5 1026.8 L223.3 1026.6 L225.9 1026.7 L228.8 1027.4 L231.3 1027.9 L234.0 1030.3 L235.6 1030.5 L237.6 1030.9 L239.8 1031.4 L242.0 1032.3 L244.1 1031.8 L246.0 1030.7 L247.8 1029.8 L249.6 1029.4 L251.3 1027.2 L252.9 1024.1 L253.6 1022.7 L254.3 1020.8 L255.0 1019.7 L255.6 1017.6 L256.2 1014.6 L256.9 1012.7 L257.5 1010.3 L258.1 1008.4 L258.7 1006.0 L259.4 1003.5 L260.0 1001.4 L260.6 999.9 L261.3 997.9 L261.9 995.7 L262.5 993.7 L263.1 991.7 L263.7 989.5 L264.3 986.9 L265.0 985.1 L265.6 983.2 L266.3 981.8 L267.0 980.7 L268.7 977.9 L270.5 977.0 L272.4 975.6 L274.2 975.5 L275.9 973.5 L277.0 971.4 L277.9 970.2 L278.8 967.9 L279.7 966.1 L280.7 964.1 L281.7 961.4 L282.9 959.6 L283.8 957.9 L284.8 955.7 L285.9 953.6 L287.0 951.7 L288.1 949.6 L289.2 947.8 L290.3 946.4 L291.4 944.9 L292.5 942.9 L293.5 941.2 L295.3 940.1 L297.1 938.5 L298.7 938.7 L300.5 937.7 L302.3 936.0 L304.0 935.1 L305.8 933.4 L307.6 932.3 L309.4 931.0 L311.2 929.1 L312.9 928.1 L314.5 925.5 L316.0 924.4 L317.5 921.9 L319.0 919.7 L320.4 918.6 L321.7 916.7 L324.2 915.5 L326.5 913.9 L328.8 914.3 L330.0 915.9 L331.1 916.9 L332.2 918.5 L333.4 920.9 L334.6 923.4 L335.9 926.1 L336.8 927.2 L337.7 929.6 L338.7 930.8 L339.7 933.2 L340.7 935.2 L341.7 936.7 L342.7 938.3 L343.7 940.1 L344.7 941.7 L346.5 944.0 L348.2 945.3 L350.0 945.7 L351.7 946.8 L353.5 949.2 L354.9 950.9 L356.4 952.3 L357.8 953.4 L359.2 955.1 L360.7 957.1 L362.3 958.9 L363.6 960.8 L364.9 962.3 L366.2 964.5 L367.6 965.9 L369.0 967.0 L370.3 968.7 L371.6 970.2 L372.9 971.6 L374.5 973.4 L376.0 974.5 L377.4 976.3 L378.8 978.4 L380.2 979.0 L381.7 980.1 L383.5 982.6 L385.3 983.7 L387.0 985.4 L388.8 986.8 L390.6 987.6 L392.3 988.6 L394.0 990.1 L395.8 990.6 L397.5 991.5 L399.4 993.0 L401.4 994.1 L403.5 995.0 L405.7 996.6 L407.9 997.2 L410.0 998.0 L412.1 999.6 L414.2 999.9 L416.3 1001.8 L418.4 1002.7 L420.5 1003.4 L422.6 1005.1 L424.8 1005.0 L426.9 1006.1 L429.1 1007.6 L431.1 1009.1 L433.0 1010.6 L434.9 1011.3 L436.7 1013.1 L438.6 1015.4 L440.5 1015.8 L442.5 1016.8 L444.7 1017.9 L446.8 1018.4 L449.0 1018.9 L451.1 1019.1 L453.2 1019.6 L455.3 1019.4 L457.4 1020.1 L459.5 1020.4 L461.6 1021.0 L463.7 1022.0 L465.8 1023.1 L468.0 1023.9 L470.1 1024.2 L472.2 1025.1 L474.3 1025.2 L476.4 1026.0 L478.5 1025.5 L480.6 1026.7 L482.7 1026.4 L484.8 1028.0 L486.9 1028.3 L489.0 1029.3 L491.1 1031.0 L493.2 1031.2 L495.3 1031.7 L497.4 1031.7 L499.6 1031.5 L501.7 1031.8 L503.8 1031.9 L505.9 1031.9 L508.0 1032.4 L510.1 1033.2 L512.2 1034.0 L514.3 1033.3 L516.4 1034.4 L518.5 1034.8 L520.7 1034.3 L522.8 1034.8 L524.9 1034.7 L527.0 1034.0 L529.2 1034.2 L531.3 1033.6 L533.4 1033.8 L535.4 1033.9 L537.7 1033.9 L539.9 1035.6 L542.0 1036.7 L544.2 1036.1 L546.1 1035.9 L548.1 1034.7 L550.1 1033.1 L551.8 1031.5 L553.0 1030.3" stroke="#2e3c96" stroke-width="1.25" fill="none" stroke-linejoin="round" stroke-dasharray="8 5"/>
<path d="M54.0 1031.0 L55.1 1031.3 L56.0 1033.0 L57.2 1035.7 L58.8 1038.5 L60.5 1040.3 L63.7 1038.3 L64.8 1036.5 L65.9 1034.5 L69.1 1034.3 L72.4 1035.3 L74.0 1034.2 L75.6 1032.2 L78.9 1032.8 L82.1 1029.6 L84.0 1028.4 L85.9 1028.4 L87.4 1031.1 L88.6 1033.1 L90.8 1036.1 L94.0 1034.2 L97.2 1033.8 L99.3 1032.9 L101.6 1032.6 L103.8 1032.3 L105.9 1031.9 L108.1 1030.6 L110.2 1028.4 L113.5 1031.1 L115.1 1032.7 L116.7 1034.0 L118.3 1033.4 L119.9 1030.7 L123.2 1029.8 L124.9 1027.8 L126.9 1026.3 L128.6 1024.3 L130.4 1025.5 L131.8 1028.2 L132.8 1031.3 L134.0 1033.0 L135.9 1032.5 L138.1 1031.3 L140.0 1033.7 L142.1 1034.6 L143.8 1033.9 L145.6 1031.2 L147.5 1029.5 L150.2 1030.0 L152.9 1031.4 L155.7 1030.3 L158.3 1029.3 L159.7 1031.4 L161.0 1033.2 L162.4 1034.6 L163.7 1033.1 L165.0 1031.0 L166.4 1028.8 L167.8 1027.9 L170.7 1027.6 L173.2 1028.4 L174.6 1031.6 L175.9 1033.4 L178.5 1032.7 L181.3 1031.2 L183.4 1030.5 L185.4 1030.5 L187.1 1031.2 L189.0 1032.6 L190.8 1033.6 L193.5 1033.3 L196.2 1031.8 L198.9 1030.7 L201.6 1029.9 L204.3 1030.1 L207.0 1031.1 L209.7 1030.3 L212.4 1030.5 L214.2 1029.4 L216.0 1027.4 L217.8 1026.4 L219.6 1028.4 L221.4 1030.0 L223.2 1031.8 L225.0 1030.7 L226.8 1027.9 L228.6 1026.8 L229.9 1027.8 L231.2 1030.1 L232.6 1032.9 L234.0 1033.9 L235.6 1032.4 L237.2 1029.6 L238.9 1027.4 L240.6 1026.6 L242.4 1027.4 L244.2 1029.2 L246.0 1030.8 L247.6 1032.2 L249.5 1030.6 L251.2 1029.0 L252.9 1026.1 L253.7 1025.3 L254.4 1023.5 L255.2 1021.0 L255.9 1019.1 L256.7 1017.2 L257.4 1014.6 L258.2 1012.3 L258.7 1010.7 L259.3 1009.0 L259.8 1006.5 L260.3 1004.3 L260.9 1002.4 L261.4 1000.1 L261.9 997.1 L262.4 995.7 L263.0 993.5 L263.5 991.1 L264.0 989.4 L264.5 986.6 L265.0 984.8 L265.5 982.3 L266.0 980.0 L266.6 978.3 L267.1 976.1 L267.6 974.1 L268.2 971.7 L268.8 970.5 L269.7 967.9 L270.7 965.6 L271.7 964.7 L272.8 962.3 L273.8 961.7 L274.9 959.6 L275.9 957.2 L276.8 955.2 L277.7 954.0 L278.6 951.5 L279.5 949.6 L280.4 947.0 L281.3 945.7 L282.1 943.1 L282.9 941.7 L284.1 939.1 L285.1 937.9 L286.2 936.2 L287.2 935.3 L288.2 933.2 L289.0 930.9 L289.7 928.8 L290.5 927.7 L291.2 924.7 L292.0 922.6 L292.7 921.2 L293.5 919.2 L294.4 917.1 L295.3 914.4 L296.2 911.8 L297.0 909.9 L297.9 908.2 L298.8 906.4 L300.5 904.0 L302.2 902.4 L304.1 900.8 L305.8 899.5 L307.6 897.4 L309.4 896.1 L311.1 895.3 L313.7 893.9 L316.4 893.1 L317.5 892.0 L318.7 889.3 L319.9 886.7 L321.2 884.7 L322.4 882.8 L323.5 881.3 L324.6 882.5 L325.6 884.1 L326.5 885.7 L327.5 889.1 L328.8 891.8 L329.6 893.6 L330.4 895.3 L331.3 897.0 L332.2 899.3 L333.2 902.0 L334.2 903.9 L335.1 906.5 L336.0 908.4 L336.8 910.0 L337.6 910.9 L340.4 913.3 L342.9 913.5 L344.2 915.2 L345.6 916.3 L347.1 917.9 L348.6 920.0 L350.0 921.9 L351.0 923.6 L352.0 925.2 L353.0 927.3 L354.0 929.5 L355.0 930.6 L356.0 933.1 L357.0 935.1 L357.9 936.1 L358.8 938.2 L359.7 941.0 L360.5 942.6 L361.4 945.4 L362.3 947.5 L363.2 948.6 L364.1 950.1 L365.5 952.7 L366.9 954.2 L368.4 956.4 L369.8 958.0 L371.2 958.9 L373.0 961.4 L374.8 962.3 L376.6 964.5 L378.2 966.3 L379.3 968.0 L380.4 971.0 L381.3 973.0 L382.4 975.1 L383.5 976.9 L385.2 978.9 L387.1 979.3 L388.9 980.8 L390.6 981.1 L393.3 980.5 L395.9 981.8 L397.2 982.8 L398.6 984.9 L400.0 987.6 L401.5 988.8 L402.9 991.3 L404.7 993.0 L406.4 994.3 L408.2 995.6 L410.0 996.2 L411.8 997.3 L413.5 998.8 L415.2 1000.4 L417.0 1001.9 L419.3 1002.6 L421.6 1004.1 L424.1 1005.0 L426.3 1005.9 L428.7 1007.0 L431.0 1008.7 L432.9 1009.8 L435.1 1009.7 L437.0 1011.0 L438.6 1012.3 L440.4 1014.3 L442.3 1016.8 L444.1 1017.8 L446.4 1018.1 L448.8 1016.5 L451.1 1016.3 L452.9 1016.6 L454.6 1018.5 L456.4 1019.6 L458.1 1020.9 L460.4 1021.0 L462.6 1021.6 L465.1 1022.0 L467.2 1021.6 L469.4 1021.6 L471.7 1021.7 L473.9 1022.7 L476.1 1023.4 L478.4 1023.5 L480.6 1024.5 L482.7 1024.5 L485.2 1024.9 L487.6 1023.9 L489.7 1022.7 L491.5 1024.4 L493.2 1026.2 L495.0 1027.1 L497.3 1027.3 L499.7 1027.2 L502.0 1026.3 L503.9 1028.1 L505.6 1030.6 L507.3 1032.2 L508.6 1030.6 L510.0 1028.7 L511.3 1025.4 L512.6 1024.7 L513.6 1025.8 L514.6 1028.0 L515.6 1030.6 L516.6 1032.5 L517.8 1034.3 L519.5 1033.8 L521.3 1031.3 L523.2 1029.4 L524.9 1028.3 L527.6 1027.1 L530.1 1027.5 L531.8 1029.8 L533.6 1031.5 L535.4 1032.5 L536.9 1031.9 L538.5 1029.4 L540.1 1026.8 L541.6 1026.0 L543.4 1026.7 L545.0 1029.1 L546.8 1031.0 L549.0 1030.5 L551.4 1029.4 L553.0 1027.6" stroke="#2b80c8" stroke-width="1.35" fill="none" stroke-linejoin="round"/>
</g>
<path d="M77.5 1056.5v-5.0M77.5 845.5v5.0M124.5 1056.5v-5.0M124.5 845.5v5.0M172.5 1056.5v-5.0M172.5 845.5v5.0M220.5 1056.5v-5.0M220.5 845.5v5.0M267.5 1056.5v-5.0M267.5 845.5v5.0M315.5 1056.5v-5.0M315.5 845.5v5.0M362.5 1056.5v-5.0M362.5 845.5v5.0M410.5 1056.5v-5.0M410.5 845.5v5.0M457.5 1056.5v-5.0M457.5 845.5v5.0M505.5 1056.5v-5.0M505.5 845.5v5.0M553.5 1056.5v-5.0M553.5 845.5v5.0M53.5 1030.5h5.0M553.0 1030.5h-5.0M53.5 993.5h5.0M553.0 993.5h-5.0M53.5 956.5h5.0M553.0 956.5h-5.0M53.5 919.5h5.0M553.0 919.5h-5.0M53.5 882.5h5.0M553.0 882.5h-5.0M53.5 845.5h5.0M553.0 845.5h-5.0" stroke="#7a7a7a" stroke-width="1" fill="none"/>
<rect x="53.5" y="845.5" width="499.5" height="211.0" stroke="#7a7a7a" stroke-width="1" fill="none"/>
<text x="78.3" y="1075.1" font-size="18.7" text-anchor="middle" font-weight="normal" >-60</text>
<text x="125.9" y="1075.1" font-size="18.7" text-anchor="middle" font-weight="normal" >-40</text>
<text x="173.4" y="1075.1" font-size="18.7" text-anchor="middle" font-weight="normal" >-20</text>
<text x="220.0" y="1075.1" font-size="18.7" text-anchor="middle" font-weight="normal" >0</text>
<text x="270.1" y="1075.1" font-size="18.7" text-anchor="middle" font-weight="normal" >20</text>
<text x="317.6" y="1075.1" font-size="18.7" text-anchor="middle" font-weight="normal" >40</text>
<text x="365.2" y="1075.1" font-size="18.7" text-anchor="middle" font-weight="normal" >60</text>
<text x="412.8" y="1075.1" font-size="18.7" text-anchor="middle" font-weight="normal" >80</text>
<text x="460.4" y="1075.1" font-size="18.7" text-anchor="middle" font-weight="normal" >100</text>
<text x="507.9" y="1075.1" font-size="18.7" text-anchor="middle" font-weight="normal" >120</text>
<text x="556.7" y="1075.1" font-size="18.7" text-anchor="middle" font-weight="normal" >140</text>
<text x="51.9" y="1036.2" font-size="18.7" text-anchor="end" font-weight="normal" >1</text>
<text x="51.9" y="999.2" font-size="18.7" text-anchor="end" font-weight="normal" >1.1</text>
<text x="51.9" y="962.2" font-size="18.7" text-anchor="end" font-weight="normal" >1.2</text>
<text x="51.9" y="925.3" font-size="18.7" text-anchor="end" font-weight="normal" >1.3</text>
<text x="51.9" y="888.4" font-size="18.7" text-anchor="end" font-weight="normal" >1.4</text>
<text x="51.9" y="851.4" font-size="18.7" text-anchor="end" font-weight="normal" >1.5</text>
<text x="289.2" y="838.2" font-size="19.6" text-anchor="start" font-weight="bold" fill="#000">CBF</text>
<text transform="translate(19.2 151.7) rotate(-90)" font-size="17.9" font-weight="bold" text-anchor="middle" fill="#000">Fractional Change</text>
<text transform="translate(19.2 422.9) rotate(-90)" font-size="17.9" font-weight="bold" text-anchor="middle" fill="#000">Fractional Change</text>
<text transform="translate(15.0 682.0) rotate(-90)" font-size="17.9" font-weight="bold" text-anchor="middle" fill="#000">Fractional Change</text>
<text transform="translate(19.2 950.4) rotate(-90)" font-size="17.9" font-weight="bold" text-anchor="middle" fill="#000">Fractional Change</text>
<text x="303.6" y="1100.2" font-size="18.3" text-anchor="middle" font-weight="normal" >Time (s)</text>
<path d="M411.9 65.6H438.1" stroke="#2b80c8" stroke-width="1.5"/>
<text x="441.0" y="73.2" font-size="18.4" text-anchor="start" font-weight="normal" >Saline +4hrs</text>
<path d="M411.9 88.5H438.1" stroke="#2e3c96" stroke-width="1.5" stroke-dasharray="8.5 5"/>
<text x="441.0" y="96.1" font-size="18.4" text-anchor="start" font-weight="normal" >Saline +6hrs</text>
<path d="M411.9 112.0H438.1" stroke="#eeb844" stroke-width="1.5"/>
<text x="441.0" y="119.6" font-size="18.4" text-anchor="start" font-weight="normal" >LPS +4hrs</text>
<path d="M411.9 134.3H438.1" stroke="#e06a3c" stroke-width="1.5" stroke-dasharray="8.5 5"/>
<text x="441.0" y="141.9" font-size="18.4" text-anchor="start" font-weight="normal" >LPS +6hrs</text>
<rect x="645.0" y="99.0" width="18.0" height="152.5" fill="#13278c" stroke="#1b1b1b" stroke-width="0.8"/>
<rect x="686.4" y="132.7" width="18.0" height="118.8" fill="#13278c" stroke="#1b1b1b" stroke-width="0.8"/>
<rect x="656.6" y="103.7" width="18.0" height="147.8" fill="#ebb021" stroke="#1b1b1b" stroke-width="0.8"/>
<rect x="698.5" y="110.3" width="18.1" height="141.2" fill="#ebb021" stroke="#1b1b1b" stroke-width="0.8"/>
<path d="M654.0 85.8V112.2" stroke="#222" stroke-width="0.85"/>
<path d="M695.3 114.2V150.9" stroke="#222" stroke-width="0.85"/>
<path d="M665.6 86.5V120.5" stroke="#222" stroke-width="0.85"/>
<path d="M707.5 93.4V128.4" stroke="#222" stroke-width="0.85"/>
<path d="M659.6 251.5v-4M659.6 53.5v4M701.5 251.5v-4M701.5 53.5v4M629.5 251.5h4M735.0 251.5h-4M629.5 218.5h4M735.0 218.5h-4M629.5 185.5h4M735.0 185.5h-4M629.5 152.5h4M735.0 152.5h-4M629.5 119.5h4M735.0 119.5h-4M629.5 86.5h4M735.0 86.5h-4M629.5 53.5h4M735.0 53.5h-4" stroke="#7a7a7a" stroke-width="1" fill="none"/>
<rect x="629.5" y="53.5" width="105.5" height="198.0" stroke="#7a7a7a" stroke-width="1" fill="none"/>
<text x="625.6" y="255.1" font-size="15.5" text-anchor="end" font-weight="normal" >0</text>
<text x="625.6" y="225.0" font-size="15.5" text-anchor="end" font-weight="normal" >10</text>
<text x="625.6" y="192.0" font-size="15.5" text-anchor="end" font-weight="normal" >20</text>
<text x="625.6" y="159.0" font-size="15.5" text-anchor="end" font-weight="normal" >30</text>
<text x="625.6" y="126.0" font-size="15.5" text-anchor="end" font-weight="normal" >40</text>
<text x="625.6" y="93.0" font-size="15.5" text-anchor="end" font-weight="normal" >50</text>
<text x="625.6" y="61.9" font-size="15.5" text-anchor="end" font-weight="normal" >60</text>
<text x="662.2" y="267.3" font-size="14.2" text-anchor="middle" font-weight="normal" >+4hrs</text>
<text x="703.2" y="267.3" font-size="14.2" text-anchor="middle" font-weight="normal" >+6hrs</text>
<text transform="translate(597.6 158.8) rotate(-90)" font-size="17.65" font-weight="bold" text-anchor="middle" fill="#000">HbO<tspan font-size="12.5" dy="3">2</tspan><tspan dy="-3"> % Change at Maxima</tspan></text>
<rect x="646.6" y="314.5" width="18.8" height="183.5" fill="#13278c" stroke="#1b1b1b" stroke-width="0.8"/>
<rect x="690.3" y="314.5" width="18.7" height="158.2" fill="#13278c" stroke="#1b1b1b" stroke-width="0.8"/>
<rect x="658.9" y="314.5" width="18.8" height="171.2" fill="#ebb021" stroke="#1b1b1b" stroke-width="0.8"/>
<rect x="703.7" y="314.5" width="17.9" height="163.1" fill="#ebb021" stroke="#1b1b1b" stroke-width="0.8"/>
<path d="M655.2 480.8V517.4" stroke="#222" stroke-width="0.85"/>
<path d="M699.4 452.3V493.2" stroke="#222" stroke-width="0.85"/>
<path d="M668.6 469.0V501.8" stroke="#222" stroke-width="0.85"/>
<path d="M712.5 460.4V494.8" stroke="#222" stroke-width="0.85"/>
<path d="M662.2 529.8v-4M662.2 314.5v4M706.5 529.8v-4M706.5 314.5v4M630.4 529.8h4M735.5 529.8h-4M630.4 502.9h4M735.5 502.9h-4M630.4 476.0h4M735.5 476.0h-4M630.4 449.1h4M735.5 449.1h-4M630.4 422.1h4M735.5 422.1h-4M630.4 395.2h4M735.5 395.2h-4M630.4 368.3h4M735.5 368.3h-4M630.4 341.4h4M735.5 341.4h-4M630.4 314.5h4M735.5 314.5h-4" stroke="#7a7a7a" stroke-width="1" fill="none"/>
<rect x="630.4" y="314.5" width="105.1" height="215.3" stroke="#7a7a7a" stroke-width="1" fill="none"/>
<text x="626.5" y="533.4" font-size="15.5" text-anchor="end" font-weight="normal" >-40</text>
<text x="626.5" y="509.4" font-size="15.5" text-anchor="end" font-weight="normal" >-35</text>
<text x="626.5" y="482.5" font-size="15.5" text-anchor="end" font-weight="normal" >-30</text>
<text x="626.5" y="455.6" font-size="15.5" text-anchor="end" font-weight="normal" >-25</text>
<text x="626.5" y="428.6" font-size="15.5" text-anchor="end" font-weight="normal" >-20</text>
<text x="626.5" y="401.7" font-size="15.5" text-anchor="end" font-weight="normal" >-15</text>
<text x="626.5" y="374.8" font-size="15.5" text-anchor="end" font-weight="normal" >-10</text>
<text x="626.5" y="347.9" font-size="15.5" text-anchor="end" font-weight="normal" >- 5</text>
<text x="626.5" y="322.9" font-size="15.5" text-anchor="end" font-weight="normal" >0</text>
<text x="663.9" y="546.6" font-size="14.2" text-anchor="middle" font-weight="normal" >+4hrs</text>
<text x="707.6" y="546.6" font-size="14.2" text-anchor="middle" font-weight="normal" >+6hrs</text>
<text transform="translate(597.1 426.4) rotate(-90)" font-size="17.65" font-weight="bold" text-anchor="middle" fill="#000">HbR % Change at Minima</text>
<rect x="643.4" y="658.8" width="18.0" height="130.7" fill="#13278c" stroke="#1b1b1b" stroke-width="0.8"/>
<rect x="684.4" y="709.3" width="18.0" height="80.2" fill="#13278c" stroke="#1b1b1b" stroke-width="0.8"/>
<rect x="655.0" y="640.2" width="18.0" height="149.3" fill="#ebb021" stroke="#1b1b1b" stroke-width="0.8"/>
<rect x="696.3" y="658.8" width="18.2" height="130.7" fill="#ebb021" stroke="#1b1b1b" stroke-width="0.8"/>
<path d="M652.0 636.2V682.8" stroke="#222" stroke-width="0.85"/>
<path d="M693.1 688.2V729.7" stroke="#222" stroke-width="0.85"/>
<path d="M664.3 611.7V669.5" stroke="#222" stroke-width="0.85"/>
<path d="M705.4 640.2V678.4" stroke="#222" stroke-width="0.85"/>
<path d="M658.5 789.5v-4M658.5 589.5v4M699.5 789.5v-4M699.5 589.5v4M626.5 789.5h4M732.5 789.5h-4M626.5 745.1h4M732.5 745.1h-4M626.5 700.6h4M732.5 700.6h-4M626.5 656.2h4M732.5 656.2h-4M626.5 611.7h4M732.5 611.7h-4" stroke="#7a7a7a" stroke-width="1" fill="none"/>
<rect x="626.5" y="589.5" width="106.0" height="200.0" stroke="#7a7a7a" stroke-width="1" fill="none"/>
<text x="622.6" y="793.1" font-size="15.5" text-anchor="end" font-weight="normal" >0</text>
<text x="622.6" y="751.6" font-size="15.5" text-anchor="end" font-weight="normal" >2</text>
<text x="622.6" y="707.1" font-size="15.5" text-anchor="end" font-weight="normal" >4</text>
<text x="622.6" y="662.7" font-size="15.5" text-anchor="end" font-weight="normal" >6</text>
<text x="622.6" y="618.2" font-size="15.5" text-anchor="end" font-weight="normal" >8</text>
<text x="660.4" y="804.6" font-size="14.2" text-anchor="middle" font-weight="normal" >+4hrs</text>
<text x="701.5" y="804.6" font-size="14.2" text-anchor="middle" font-weight="normal" >+6hrs</text>
<text transform="translate(599.9 688.3) rotate(-90)" font-size="17.65" font-weight="bold" text-anchor="middle" fill="#000">HbT % Change at Maxima</text>
<rect x="645.3" y="903.6" width="17.5" height="143.9" fill="#13278c" stroke="#1b1b1b" stroke-width="0.8"/>
<rect x="687.2" y="935.1" width="18.2" height="112.4" fill="#13278c" stroke="#1b1b1b" stroke-width="0.8"/>
<rect x="657.4" y="931.4" width="18.2" height="116.1" fill="#ebb021" stroke="#1b1b1b" stroke-width="0.8"/>
<rect x="699.6" y="955.6" width="17.9" height="91.9" fill="#ebb021" stroke="#1b1b1b" stroke-width="0.8"/>
<path d="M654.2 881.3V925.8" stroke="#222" stroke-width="0.85"/>
<path d="M696.1 916.5V953.6" stroke="#222" stroke-width="0.85"/>
<path d="M666.5 912.8V951.3" stroke="#222" stroke-width="0.85"/>
<path d="M708.6 940.4V970.2" stroke="#222" stroke-width="0.85"/>
<path d="M660.5 1047.5v-4M660.5 848.5v4M702.5 1047.5v-4M702.5 848.5v4M629.7 1047.5h4M733.4 1047.5h-4M629.7 1014.3h4M733.4 1014.3h-4M629.7 981.2h4M733.4 981.2h-4M629.7 948.0h4M733.4 948.0h-4M629.7 914.8h4M733.4 914.8h-4M629.7 881.7h4M733.4 881.7h-4M629.7 848.5h4M733.4 848.5h-4" stroke="#7a7a7a" stroke-width="1" fill="none"/>
<rect x="629.7" y="848.5" width="103.7" height="199.0" stroke="#7a7a7a" stroke-width="1" fill="none"/>
<text x="625.8" y="1051.1" font-size="15.5" text-anchor="end" font-weight="normal" >0</text>
<text x="625.8" y="1020.8" font-size="15.5" text-anchor="end" font-weight="normal" >10</text>
<text x="625.8" y="987.7" font-size="15.5" text-anchor="end" font-weight="normal" >20</text>
<text x="625.8" y="954.5" font-size="15.5" text-anchor="end" font-weight="normal" >30</text>
<text x="625.8" y="921.3" font-size="15.5" text-anchor="end" font-weight="normal" >40</text>
<text x="625.8" y="888.2" font-size="15.5" text-anchor="end" font-weight="normal" >50</text>
<text x="625.8" y="856.9" font-size="15.5" text-anchor="end" font-weight="normal" >60</text>
<text x="662.8" y="1062.9" font-size="14.2" text-anchor="middle" font-weight="normal" >+4hrs</text>
<text x="704.3" y="1062.9" font-size="14.2" text-anchor="middle" font-weight="normal" >+6hrs</text>
<text transform="translate(599.9 950.6) rotate(-90)" font-size="17.65" font-weight="bold" text-anchor="middle" fill="#000">CBF % Change at Maxima</text>
<rect x="604" y="20.3" width="24.2" height="14.6" fill="#13278c" stroke="#222" stroke-width="0.8"/>
<text x="630.8" y="33.6" font-size="16.3" text-anchor="start" font-weight="normal" >Saline</text>
<rect x="682.3" y="20.3" width="24.2" height="14.6" fill="#ebb021" stroke="#222" stroke-width="0.8"/>
<text x="709.3" y="33.6" font-size="16.3" text-anchor="start" font-weight="normal" >LPS</text>
</svg></body></html>
